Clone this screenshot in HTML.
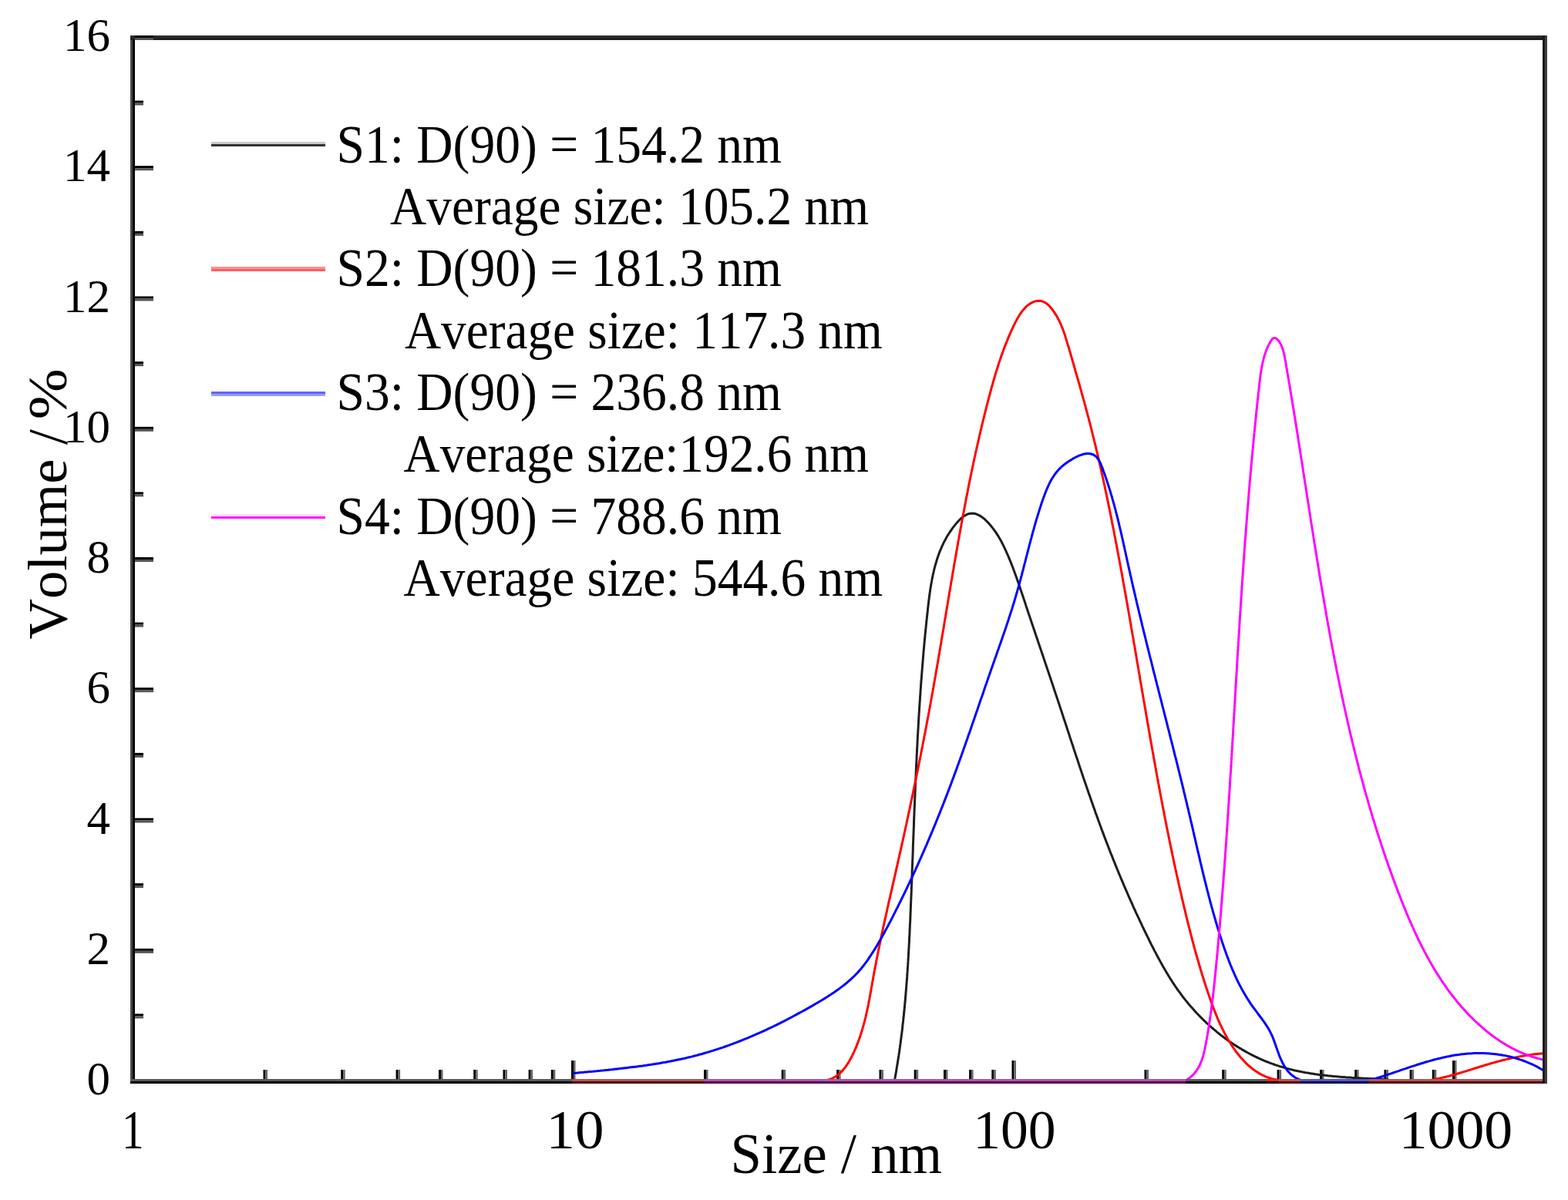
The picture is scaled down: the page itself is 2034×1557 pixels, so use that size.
<!DOCTYPE html>
<html><head><meta charset="utf-8"><title>Particle size distribution</title>
<style>html,body{margin:0;padding:0;background:#fff;overflow:hidden}svg{display:block}text{font-kerning:none;font-variant-ligatures:none}</style>
</head><body>
<svg width="2034" height="1557" viewBox="0 0 2034 1557">
<rect width="100%" height="100%" fill="#fff"/>
<rect x="169" y="46" width="3" height="1360" fill="#4a4a4a"/>
<rect x="172" y="46" width="3" height="1360" fill="#000"/>
<rect x="169" y="46" width="1838" height="3" fill="#2d2d2d"/>
<rect x="169" y="49" width="1838" height="3" fill="#1e1e1e"/>
<rect x="175" y="1315.4" width="11" height="3" fill="#000"/>
<rect x="175" y="1318.4" width="11" height="3" fill="#555"/>
<rect x="175" y="1230.8" width="24" height="3" fill="#000"/>
<rect x="175" y="1233.8" width="24" height="3" fill="#555"/>
<rect x="175" y="1146.1" width="11" height="3" fill="#000"/>
<rect x="175" y="1149.1" width="11" height="3" fill="#555"/>
<rect x="175" y="1061.5" width="24" height="3" fill="#000"/>
<rect x="175" y="1064.5" width="24" height="3" fill="#555"/>
<rect x="175" y="976.9" width="11" height="3" fill="#000"/>
<rect x="175" y="979.9" width="11" height="3" fill="#555"/>
<rect x="175" y="892.2" width="24" height="3" fill="#000"/>
<rect x="175" y="895.2" width="24" height="3" fill="#555"/>
<rect x="175" y="807.6" width="11" height="3" fill="#000"/>
<rect x="175" y="810.6" width="11" height="3" fill="#555"/>
<rect x="175" y="723.0" width="24" height="3" fill="#000"/>
<rect x="175" y="726.0" width="24" height="3" fill="#555"/>
<rect x="175" y="638.4" width="11" height="3" fill="#000"/>
<rect x="175" y="641.4" width="11" height="3" fill="#555"/>
<rect x="175" y="553.8" width="24" height="3" fill="#000"/>
<rect x="175" y="556.8" width="24" height="3" fill="#555"/>
<rect x="175" y="469.1" width="11" height="3" fill="#000"/>
<rect x="175" y="472.1" width="11" height="3" fill="#555"/>
<rect x="175" y="384.5" width="24" height="3" fill="#000"/>
<rect x="175" y="387.5" width="24" height="3" fill="#555"/>
<rect x="175" y="299.9" width="11" height="3" fill="#000"/>
<rect x="175" y="302.9" width="11" height="3" fill="#555"/>
<rect x="175" y="215.2" width="24" height="3" fill="#000"/>
<rect x="175" y="218.2" width="24" height="3" fill="#555"/>
<rect x="175" y="130.6" width="11" height="3" fill="#000"/>
<rect x="175" y="133.6" width="11" height="3" fill="#555"/>
<rect x="175" y="46.0" width="24" height="3" fill="#000"/>
<rect x="175" y="49.0" width="24" height="3" fill="#555"/>
<rect x="341.5" y="1388" width="3" height="12" fill="#000"/>
<rect x="344.5" y="1388" width="2.5" height="12" fill="#666"/>
<rect x="442.2" y="1388" width="3" height="12" fill="#000"/>
<rect x="445.2" y="1388" width="2.5" height="12" fill="#666"/>
<rect x="513.6" y="1388" width="3" height="12" fill="#000"/>
<rect x="516.6" y="1388" width="2.5" height="12" fill="#666"/>
<rect x="569.0" y="1388" width="3" height="12" fill="#000"/>
<rect x="572.0" y="1388" width="2.5" height="12" fill="#666"/>
<rect x="614.2" y="1388" width="3" height="12" fill="#000"/>
<rect x="617.2" y="1388" width="2.5" height="12" fill="#666"/>
<rect x="652.5" y="1388" width="3" height="12" fill="#000"/>
<rect x="655.5" y="1388" width="2.5" height="12" fill="#666"/>
<rect x="685.6" y="1388" width="3" height="12" fill="#000"/>
<rect x="688.6" y="1388" width="2.5" height="12" fill="#666"/>
<rect x="714.8" y="1388" width="3" height="12" fill="#000"/>
<rect x="717.8" y="1388" width="2.5" height="12" fill="#666"/>
<rect x="741.0" y="1376" width="3" height="24" fill="#000"/>
<rect x="744.0" y="1376" width="2.5" height="24" fill="#666"/>
<rect x="913.0" y="1388" width="3" height="12" fill="#000"/>
<rect x="916.0" y="1388" width="2.5" height="12" fill="#666"/>
<rect x="1013.7" y="1388" width="3" height="12" fill="#000"/>
<rect x="1016.7" y="1388" width="2.5" height="12" fill="#666"/>
<rect x="1085.1" y="1388" width="3" height="12" fill="#000"/>
<rect x="1088.1" y="1388" width="2.5" height="12" fill="#666"/>
<rect x="1140.5" y="1388" width="3" height="12" fill="#000"/>
<rect x="1143.5" y="1388" width="2.5" height="12" fill="#666"/>
<rect x="1185.7" y="1388" width="3" height="12" fill="#000"/>
<rect x="1188.7" y="1388" width="2.5" height="12" fill="#666"/>
<rect x="1224.0" y="1388" width="3" height="12" fill="#000"/>
<rect x="1227.0" y="1388" width="2.5" height="12" fill="#666"/>
<rect x="1257.1" y="1388" width="3" height="12" fill="#000"/>
<rect x="1260.1" y="1388" width="2.5" height="12" fill="#666"/>
<rect x="1286.3" y="1388" width="3" height="12" fill="#000"/>
<rect x="1289.3" y="1388" width="2.5" height="12" fill="#666"/>
<rect x="1312.5" y="1376" width="3" height="24" fill="#000"/>
<rect x="1315.5" y="1376" width="2.5" height="24" fill="#666"/>
<rect x="1484.5" y="1388" width="3" height="12" fill="#000"/>
<rect x="1487.5" y="1388" width="2.5" height="12" fill="#666"/>
<rect x="1585.2" y="1388" width="3" height="12" fill="#000"/>
<rect x="1588.2" y="1388" width="2.5" height="12" fill="#666"/>
<rect x="1656.6" y="1388" width="3" height="12" fill="#000"/>
<rect x="1659.6" y="1388" width="2.5" height="12" fill="#666"/>
<rect x="1712.0" y="1388" width="3" height="12" fill="#000"/>
<rect x="1715.0" y="1388" width="2.5" height="12" fill="#666"/>
<rect x="1757.2" y="1388" width="3" height="12" fill="#000"/>
<rect x="1760.2" y="1388" width="2.5" height="12" fill="#666"/>
<rect x="1795.5" y="1388" width="3" height="12" fill="#000"/>
<rect x="1798.5" y="1388" width="2.5" height="12" fill="#666"/>
<rect x="1828.6" y="1388" width="3" height="12" fill="#000"/>
<rect x="1831.6" y="1388" width="2.5" height="12" fill="#666"/>
<rect x="1857.8" y="1388" width="3" height="12" fill="#000"/>
<rect x="1860.8" y="1388" width="2.5" height="12" fill="#666"/>
<rect x="1884.0" y="1376" width="3" height="24" fill="#000"/>
<rect x="1887.0" y="1376" width="2.5" height="24" fill="#666"/>
<path d="M1160.5,1401.3 L1161.0,1398.8 L1161.4,1396.4 L1161.9,1393.9 L1162.3,1391.5 L1162.7,1389.0 L1163.1,1386.6 L1163.5,1384.1 L1163.9,1381.6 L1164.3,1379.2 L1164.7,1376.7 L1165.1,1374.2 L1165.5,1371.8 L1165.9,1369.3 L1166.2,1366.9 L1166.6,1364.4 L1166.9,1361.9 L1167.3,1359.4 L1167.6,1357.0 L1168.0,1354.5 L1168.3,1352.0 L1168.6,1349.5 L1168.9,1347.1 L1169.3,1344.6 L1169.6,1342.1 L1169.9,1339.6 L1170.2,1337.2 L1170.5,1334.7 L1170.7,1332.2 L1171.0,1329.7 L1171.3,1327.2 L1171.6,1324.7 L1171.8,1322.3 L1172.1,1319.8 L1172.4,1317.3 L1172.6,1314.8 L1172.9,1312.3 L1173.1,1309.8 L1173.4,1307.3 L1173.6,1304.8 L1173.8,1302.3 L1174.1,1299.8 L1174.3,1297.4 L1174.5,1294.9 L1174.7,1292.4 L1174.9,1289.9 L1175.1,1287.4 L1175.3,1284.9 L1175.5,1282.4 L1175.7,1279.9 L1175.9,1277.4 L1176.1,1274.9 L1176.3,1272.4 L1176.5,1269.9 L1176.7,1267.4 L1176.8,1264.9 L1177.0,1262.4 L1177.2,1259.9 L1177.3,1257.4 L1177.5,1254.9 L1177.7,1252.4 L1177.8,1249.9 L1178.0,1247.4 L1178.1,1244.8 L1178.3,1242.3 L1178.4,1239.8 L1178.6,1237.3 L1178.7,1234.8 L1178.8,1232.3 L1179.0,1229.8 L1179.1,1227.3 L1179.2,1224.8 L1179.4,1222.3 L1179.5,1219.8 L1179.6,1217.3 L1179.7,1214.8 L1179.9,1212.3 L1180.0,1209.8 L1180.1,1207.3 L1180.2,1204.7 L1180.3,1202.2 L1180.4,1199.7 L1180.6,1197.2 L1180.7,1194.7 L1180.8,1192.2 L1180.9,1189.7 L1181.0,1187.2 L1181.1,1184.7 L1181.2,1182.2 L1181.3,1179.7 L1181.4,1177.2 L1181.5,1174.7 L1181.6,1172.2 L1181.7,1169.7 L1181.8,1167.1 L1181.9,1164.6 L1182.0,1162.1 L1182.1,1159.6 L1182.2,1157.1 L1182.3,1154.6 L1182.4,1152.1 L1182.5,1149.6 L1182.6,1147.1 L1182.7,1144.6 L1182.8,1142.1 L1182.9,1139.6 L1183.0,1137.1 L1183.1,1134.6 L1183.1,1132.1 L1183.2,1129.6 L1183.3,1127.1 L1183.4,1124.6 L1183.5,1122.1 L1183.6,1119.6 L1183.7,1117.1 L1183.8,1114.6 L1183.9,1112.1 L1184.0,1109.6 L1184.1,1107.1 L1184.2,1104.6 L1184.3,1102.1 L1184.3,1099.6 L1184.4,1097.1 L1184.5,1094.6 L1184.6,1092.1 L1184.7,1089.6 L1184.8,1087.1 L1184.9,1084.6 L1185.0,1082.1 L1185.1,1079.6 L1185.2,1077.1 L1185.3,1074.6 L1185.4,1072.1 L1185.5,1069.6 L1185.5,1067.1 L1185.6,1064.6 L1185.7,1062.1 L1185.8,1059.6 L1185.9,1057.1 L1186.0,1054.6 L1186.1,1052.1 L1186.2,1049.6 L1186.3,1047.1 L1186.4,1044.6 L1186.5,1042.1 L1186.6,1039.6 L1186.7,1037.2 L1186.8,1034.7 L1186.9,1032.2 L1187.0,1029.7 L1187.1,1027.2 L1187.2,1024.7 L1187.3,1022.2 L1187.4,1019.7 L1187.5,1017.2 L1187.6,1014.7 L1187.7,1012.2 L1187.9,1009.7 L1188.0,1007.2 L1188.1,1004.7 L1188.2,1002.2 L1188.3,999.7 L1188.4,997.2 L1188.5,994.7 L1188.6,992.2 L1188.8,989.7 L1188.9,987.2 L1189.0,984.7 L1189.1,982.2 L1189.2,979.7 L1189.4,977.2 L1189.5,974.8 L1189.6,972.3 L1189.7,969.8 L1189.9,967.3 L1190.0,964.8 L1190.1,962.3 L1190.2,959.8 L1190.4,957.3 L1190.5,954.8 L1190.6,952.3 L1190.8,949.8 L1190.9,947.3 L1191.1,944.8 L1191.2,942.3 L1191.3,939.8 L1191.5,937.3 L1191.6,934.8 L1191.8,932.3 L1191.9,929.8 L1192.1,927.3 L1192.2,924.8 L1192.4,922.3 L1192.5,919.8 L1192.7,917.3 L1192.9,914.8 L1193.0,912.3 L1193.2,909.8 L1193.4,907.3 L1193.5,904.8 L1193.7,902.3 L1193.9,899.8 L1194.0,897.3 L1194.2,894.8 L1194.4,892.3 L1194.6,889.8 L1194.7,887.3 L1194.9,884.8 L1195.1,882.3 L1195.3,879.8 L1195.5,877.3 L1195.7,874.8 L1195.9,872.3 L1196.1,869.8 L1196.3,867.3 L1196.5,864.8 L1196.7,862.3 L1196.9,859.8 L1197.1,857.3 L1197.3,854.8 L1197.5,852.3 L1197.7,849.8 L1197.9,847.3 L1198.1,844.8 L1198.4,842.3 L1198.6,839.8 L1198.8,837.3 L1199.0,834.8 L1199.3,832.3 L1199.5,829.8 L1199.8,827.3 L1200.0,824.8 L1200.2,822.3 L1200.5,819.8 L1200.7,817.3 L1201.0,814.7 L1201.2,812.2 L1201.5,809.7 L1201.7,807.2 L1202.0,804.7 L1202.3,802.2 L1202.5,799.7 L1202.8,797.2 L1203.1,794.7 L1203.4,792.2 L1203.6,789.7 L1203.9,787.2 L1204.2,784.6 L1204.5,782.1 L1204.8,779.6 L1205.1,777.1 L1205.4,774.6 L1205.8,772.1 L1206.1,769.6 L1206.5,767.1 L1206.8,764.6 L1207.2,762.2 L1207.6,759.7 L1208.0,757.2 L1208.5,754.7 L1208.9,752.3 L1209.4,749.8 L1209.9,747.4 L1210.4,744.9 L1211.0,742.5 L1211.5,740.1 L1212.1,737.7 L1212.7,735.3 L1213.4,732.9 L1214.1,730.5 L1214.8,728.1 L1215.5,725.8 L1216.3,723.4 L1217.1,721.1 L1217.9,718.7 L1218.8,716.4 L1219.7,714.1 L1220.7,711.9 L1221.6,709.6 L1222.7,707.3 L1223.7,705.1 L1224.8,702.9 L1226.0,700.7 L1227.2,698.5 L1228.4,696.3 L1229.7,694.1 L1231.1,692.0 L1232.5,689.9 L1233.9,687.8 L1235.4,685.7 L1236.9,683.6 L1238.5,681.6 L1240.1,679.6 L1241.8,677.6 L1243.6,675.7 L1245.4,673.8 L1247.2,672.1 L1249.1,670.6 L1251.1,669.2 L1253.1,668.1 L1255.1,667.2 L1257.2,666.5 L1259.4,666.2 L1261.5,666.1 L1263.7,666.3 L1265.9,666.8 L1268.0,667.6 L1270.1,668.6 L1272.3,669.9 L1274.3,671.3 L1276.4,672.9 L1278.4,674.7 L1280.3,676.6 L1282.2,678.6 L1284.1,680.7 L1285.8,682.8 L1287.5,684.9 L1289.2,687.1 L1290.7,689.2 L1292.2,691.4 L1293.6,693.6 L1295.0,695.7 L1296.3,697.9 L1297.5,700.1 L1298.8,702.3 L1299.9,704.5 L1301.0,706.7 L1302.1,708.9 L1303.2,711.1 L1304.2,713.3 L1305.2,715.5 L1306.2,717.8 L1307.2,720.0 L1308.2,722.3 L1309.1,724.6 L1310.0,726.8 L1311.0,729.1 L1311.9,731.4 L1312.8,733.7 L1313.7,736.0 L1314.5,738.3 L1315.4,740.7 L1316.3,743.0 L1317.1,745.3 L1318.0,747.7 L1318.8,750.0 L1319.6,752.4 L1320.5,754.7 L1321.3,757.1 L1322.1,759.4 L1322.9,761.8 L1323.7,764.2 L1324.5,766.6 L1325.3,768.9 L1326.1,771.3 L1326.9,773.7 L1327.7,776.1 L1328.5,778.4 L1329.3,780.8 L1330.1,783.2 L1330.8,785.6 L1331.6,788.0 L1332.4,790.3 L1333.2,792.7 L1334.0,795.1 L1334.8,797.5 L1335.6,799.8 L1336.4,802.2 L1337.2,804.6 L1338.0,807.0 L1338.8,809.3 L1339.6,811.7 L1340.4,814.1 L1341.2,816.5 L1342.0,818.8 L1342.8,821.2 L1343.6,823.6 L1344.4,825.9 L1345.2,828.3 L1346.0,830.7 L1346.8,833.1 L1347.6,835.4 L1348.4,837.8 L1349.2,840.2 L1350.0,842.5 L1350.8,844.9 L1351.6,847.3 L1352.4,849.6 L1353.2,852.0 L1354.0,854.4 L1354.8,856.7 L1355.6,859.1 L1356.4,861.5 L1357.2,863.8 L1358.0,866.2 L1358.8,868.6 L1359.6,871.0 L1360.4,873.3 L1361.2,875.7 L1362.0,878.1 L1362.8,880.4 L1363.6,882.8 L1364.4,885.2 L1365.2,887.5 L1366.0,889.9 L1366.7,892.3 L1367.5,894.7 L1368.3,897.0 L1369.1,899.4 L1369.9,901.8 L1370.7,904.1 L1371.5,906.5 L1372.3,908.9 L1373.1,911.3 L1373.9,913.6 L1374.6,916.0 L1375.4,918.4 L1376.2,920.8 L1377.0,923.1 L1377.8,925.5 L1378.6,927.9 L1379.3,930.3 L1380.1,932.7 L1380.9,935.0 L1381.7,937.4 L1382.5,939.8 L1383.3,942.2 L1384.0,944.6 L1384.8,946.9 L1385.6,949.3 L1386.4,951.7 L1387.2,954.1 L1387.9,956.4 L1388.7,958.8 L1389.5,961.2 L1390.3,963.6 L1391.1,966.0 L1391.9,968.3 L1392.6,970.7 L1393.4,973.1 L1394.2,975.5 L1395.0,977.9 L1395.8,980.2 L1396.6,982.6 L1397.4,985.0 L1398.2,987.4 L1399.0,989.7 L1399.7,992.1 L1400.5,994.5 L1401.3,996.9 L1402.1,999.2 L1402.9,1001.6 L1403.7,1004.0 L1404.5,1006.4 L1405.3,1008.7 L1406.1,1011.1 L1406.9,1013.5 L1407.8,1015.9 L1408.6,1018.2 L1409.4,1020.6 L1410.2,1023.0 L1411.0,1025.3 L1411.8,1027.7 L1412.6,1030.1 L1413.5,1032.4 L1414.3,1034.8 L1415.1,1037.2 L1415.9,1039.5 L1416.8,1041.9 L1417.6,1044.3 L1418.4,1046.6 L1419.3,1049.0 L1420.1,1051.3 L1420.9,1053.7 L1421.8,1056.1 L1422.6,1058.4 L1423.5,1060.8 L1424.3,1063.1 L1425.2,1065.5 L1426.0,1067.8 L1426.9,1070.2 L1427.8,1072.5 L1428.6,1074.9 L1429.5,1077.2 L1430.4,1079.6 L1431.3,1081.9 L1432.1,1084.3 L1433.0,1086.6 L1433.9,1088.9 L1434.8,1091.3 L1435.7,1093.6 L1436.6,1096.0 L1437.5,1098.3 L1438.4,1100.6 L1439.3,1103.0 L1440.2,1105.3 L1441.1,1107.6 L1442.1,1109.9 L1443.0,1112.3 L1443.9,1114.6 L1444.8,1116.9 L1445.8,1119.2 L1446.7,1121.6 L1447.6,1123.9 L1448.6,1126.2 L1449.5,1128.5 L1450.5,1130.8 L1451.4,1133.1 L1452.4,1135.5 L1453.4,1137.8 L1454.3,1140.1 L1455.3,1142.4 L1456.3,1144.7 L1457.3,1147.0 L1458.2,1149.3 L1459.2,1151.6 L1460.2,1153.9 L1461.2,1156.2 L1462.2,1158.5 L1463.2,1160.8 L1464.2,1163.1 L1465.2,1165.4 L1466.2,1167.6 L1467.3,1169.9 L1468.3,1172.2 L1469.3,1174.5 L1470.3,1176.8 L1471.4,1179.1 L1472.4,1181.3 L1473.4,1183.6 L1474.5,1185.9 L1475.5,1188.2 L1476.6,1190.4 L1477.7,1192.7 L1478.7,1195.0 L1479.8,1197.2 L1480.9,1199.5 L1481.9,1201.8 L1483.0,1204.0 L1484.1,1206.3 L1485.2,1208.5 L1486.3,1210.8 L1487.4,1213.0 L1488.5,1215.3 L1489.6,1217.5 L1490.7,1219.8 L1491.8,1222.0 L1492.9,1224.3 L1494.0,1226.5 L1495.2,1228.7 L1496.3,1231.0 L1497.4,1233.2 L1498.6,1235.4 L1499.8,1237.6 L1500.9,1239.8 L1502.1,1242.0 L1503.3,1244.2 L1504.5,1246.4 L1505.7,1248.6 L1506.9,1250.8 L1508.1,1253.0 L1509.4,1255.2 L1510.6,1257.3 L1511.9,1259.5 L1513.1,1261.6 L1514.4,1263.8 L1515.7,1265.9 L1517.0,1268.0 L1518.3,1270.1 L1519.7,1272.2 L1521.0,1274.3 L1522.4,1276.4 L1523.8,1278.5 L1525.2,1280.6 L1526.6,1282.6 L1528.0,1284.7 L1529.5,1286.7 L1531.0,1288.7 L1532.4,1290.7 L1533.9,1292.7 L1535.5,1294.7 L1537.0,1296.6 L1538.6,1298.6 L1540.2,1300.5 L1541.7,1302.5 L1543.4,1304.4 L1545.0,1306.3 L1546.6,1308.1 L1548.3,1310.0 L1550.0,1311.9 L1551.7,1313.7 L1553.4,1315.5 L1555.1,1317.3 L1556.9,1319.1 L1558.6,1320.9 L1560.4,1322.7 L1562.2,1324.4 L1564.0,1326.1 L1565.8,1327.8 L1567.7,1329.5 L1569.5,1331.2 L1571.4,1332.9 L1573.3,1334.5 L1575.2,1336.1 L1577.1,1337.7 L1579.0,1339.3 L1581.0,1340.9 L1582.9,1342.5 L1584.9,1344.0 L1586.9,1345.5 L1588.9,1347.0 L1590.9,1348.5 L1592.9,1349.9 L1595.0,1351.4 L1597.0,1352.8 L1599.1,1354.2 L1601.2,1355.6 L1603.3,1356.9 L1605.4,1358.2 L1607.5,1359.6 L1609.7,1360.8 L1611.8,1362.1 L1614.0,1363.4 L1616.1,1364.6 L1618.3,1365.8 L1620.5,1367.0 L1622.7,1368.1 L1625.0,1369.3 L1627.2,1370.4 L1629.4,1371.5 L1631.7,1372.5 L1634.0,1373.6 L1636.2,1374.6 L1638.5,1375.6 L1640.8,1376.6 L1643.1,1377.5 L1645.4,1378.4 L1647.8,1379.3 L1650.1,1380.2 L1652.5,1381.0 L1654.8,1381.8 L1657.2,1382.6 L1659.6,1383.4 L1662.0,1384.1 L1664.4,1384.9 L1666.8,1385.6 L1669.2,1386.2 L1671.6,1386.9 L1674.0,1387.5 L1676.5,1388.1 L1678.9,1388.7 L1681.4,1389.2 L1683.8,1389.8 L1686.3,1390.3 L1688.8,1390.8 L1691.2,1391.2 L1693.7,1391.7 L1696.2,1392.1 L1698.7,1392.5 L1701.2,1392.9 L1703.7,1393.3 L1706.2,1393.7 L1708.7,1394.0 L1711.2,1394.4 L1713.7,1394.7 L1716.2,1395.0 L1718.7,1395.3 L1721.2,1395.6 L1723.7,1395.9 L1726.2,1396.1 L1728.7,1396.4 L1731.2,1396.6 L1733.7,1396.8 L1736.2,1397.0 L1738.7,1397.2 L1741.2,1397.4 L1743.7,1397.6 L1746.2,1397.8 L1748.7,1397.9 L1751.2,1398.1 L1753.7,1398.3 L1756.1,1398.4 L1758.6,1398.5 L1761.1,1398.7 L1763.5,1398.8 L1766.0,1398.9 L1768.5,1399.1 L1770.9,1399.2 L1773.3,1399.3 L1775.8,1399.4 L1800.0,1400.5" fill="none" stroke="#1e1e1e" stroke-width="3" stroke-linejoin="round" stroke-linecap="round"/>
<path d="M1059.8,1402.0 L1062.6,1402.3 L1065.4,1402.3 L1068.0,1402.2 L1070.6,1401.9 L1073.1,1401.4 L1075.4,1400.8 L1077.7,1400.0 L1079.9,1399.0 L1082.0,1397.9 L1084.0,1396.7 L1086.0,1395.4 L1087.8,1393.9 L1089.6,1392.3 L1091.4,1390.7 L1093.0,1388.9 L1094.6,1387.0 L1096.2,1385.1 L1097.6,1383.1 L1099.0,1381.0 L1100.4,1378.9 L1101.7,1376.7 L1103.0,1374.4 L1104.2,1372.2 L1105.4,1369.9 L1106.5,1367.6 L1107.6,1365.3 L1108.6,1362.9 L1109.7,1360.6 L1110.7,1358.3 L1111.6,1355.9 L1112.5,1353.6 L1113.4,1351.2 L1114.3,1348.9 L1115.1,1346.5 L1115.9,1344.1 L1116.7,1341.7 L1117.5,1339.3 L1118.2,1337.0 L1118.9,1334.6 L1119.6,1332.2 L1120.3,1329.7 L1120.9,1327.3 L1121.6,1324.9 L1122.2,1322.5 L1122.8,1320.1 L1123.3,1317.7 L1123.9,1315.2 L1124.4,1312.8 L1124.9,1310.4 L1125.5,1307.9 L1126.0,1305.5 L1126.5,1303.1 L1126.9,1300.6 L1127.4,1298.2 L1127.9,1295.7 L1128.3,1293.3 L1128.8,1290.8 L1129.2,1288.4 L1129.7,1285.9 L1130.1,1283.5 L1130.5,1281.0 L1131.0,1278.5 L1131.4,1276.1 L1131.8,1273.6 L1132.3,1271.2 L1132.7,1268.7 L1133.1,1266.3 L1133.6,1263.8 L1134.0,1261.3 L1134.5,1258.9 L1135.0,1256.4 L1135.4,1254.0 L1135.9,1251.5 L1136.4,1249.1 L1136.8,1246.6 L1137.3,1244.2 L1137.8,1241.7 L1138.3,1239.2 L1138.8,1236.8 L1139.3,1234.3 L1139.8,1231.9 L1140.3,1229.4 L1140.8,1227.0 L1141.3,1224.5 L1141.8,1222.1 L1142.3,1219.6 L1142.8,1217.2 L1143.3,1214.7 L1143.8,1212.3 L1144.4,1209.8 L1144.9,1207.4 L1145.4,1204.9 L1145.9,1202.5 L1146.5,1200.0 L1147.0,1197.6 L1147.5,1195.1 L1148.1,1192.7 L1148.6,1190.3 L1149.2,1187.8 L1149.7,1185.4 L1150.3,1182.9 L1150.8,1180.5 L1151.3,1178.0 L1151.9,1175.6 L1152.4,1173.1 L1153.0,1170.7 L1153.5,1168.2 L1154.1,1165.8 L1154.7,1163.4 L1155.2,1160.9 L1155.8,1158.5 L1156.3,1156.0 L1156.9,1153.6 L1157.4,1151.1 L1158.0,1148.7 L1158.5,1146.2 L1159.1,1143.8 L1159.7,1141.4 L1160.2,1138.9 L1160.8,1136.5 L1161.3,1134.0 L1161.9,1131.6 L1162.4,1129.1 L1163.0,1126.7 L1163.5,1124.3 L1164.1,1121.8 L1164.6,1119.4 L1165.2,1116.9 L1165.7,1114.5 L1166.3,1112.0 L1166.8,1109.6 L1167.4,1107.2 L1167.9,1104.7 L1168.5,1102.3 L1169.0,1099.8 L1169.6,1097.4 L1170.1,1094.9 L1170.6,1092.5 L1171.2,1090.1 L1171.7,1087.6 L1172.3,1085.2 L1172.8,1082.7 L1173.3,1080.3 L1173.9,1077.9 L1174.4,1075.4 L1174.9,1073.0 L1175.5,1070.5 L1176.0,1068.1 L1176.5,1065.6 L1177.0,1063.2 L1177.6,1060.8 L1178.1,1058.3 L1178.6,1055.9 L1179.1,1053.4 L1179.7,1051.0 L1180.2,1048.5 L1180.7,1046.1 L1181.2,1043.6 L1181.7,1041.2 L1182.2,1038.8 L1182.8,1036.3 L1183.3,1033.9 L1183.8,1031.4 L1184.3,1029.0 L1184.8,1026.5 L1185.3,1024.1 L1185.8,1021.6 L1186.3,1019.2 L1186.8,1016.8 L1187.3,1014.3 L1187.8,1011.9 L1188.3,1009.4 L1188.8,1007.0 L1189.3,1004.5 L1189.8,1002.1 L1190.3,999.6 L1190.8,997.2 L1191.3,994.7 L1191.8,992.3 L1192.3,989.8 L1192.8,987.4 L1193.3,984.9 L1193.8,982.5 L1194.3,980.0 L1194.7,977.6 L1195.2,975.1 L1195.7,972.7 L1196.2,970.2 L1196.7,967.8 L1197.1,965.3 L1197.6,962.9 L1198.1,960.4 L1198.6,958.0 L1199.0,955.5 L1199.5,953.1 L1200.0,950.6 L1200.4,948.2 L1200.9,945.7 L1201.4,943.2 L1201.8,940.8 L1202.3,938.3 L1202.8,935.9 L1203.2,933.4 L1203.7,931.0 L1204.2,928.5 L1204.6,926.0 L1205.1,923.6 L1205.5,921.1 L1206.0,918.7 L1206.4,916.2 L1206.9,913.7 L1207.3,911.3 L1207.8,908.8 L1208.2,906.4 L1208.7,903.9 L1209.1,901.4 L1209.5,899.0 L1210.0,896.5 L1210.4,894.0 L1210.9,891.6 L1211.3,889.1 L1211.7,886.6 L1212.2,884.2 L1212.6,881.7 L1213.0,879.2 L1213.5,876.8 L1213.9,874.3 L1214.3,871.8 L1214.7,869.4 L1215.2,866.9 L1215.6,864.4 L1216.0,861.9 L1216.5,859.5 L1216.9,857.0 L1217.3,854.5 L1217.7,852.1 L1218.1,849.6 L1218.6,847.1 L1219.0,844.6 L1219.4,842.2 L1219.8,839.7 L1220.2,837.2 L1220.7,834.7 L1221.1,832.3 L1221.5,829.8 L1221.9,827.3 L1222.3,824.8 L1222.7,822.4 L1223.1,819.9 L1223.6,817.4 L1224.0,814.9 L1224.4,812.5 L1224.8,810.0 L1225.2,807.5 L1225.6,805.0 L1226.0,802.6 L1226.5,800.1 L1226.9,797.6 L1227.3,795.1 L1227.7,792.7 L1228.1,790.2 L1228.5,787.7 L1228.9,785.2 L1229.4,782.8 L1229.8,780.3 L1230.2,777.8 L1230.6,775.3 L1231.0,772.9 L1231.4,770.4 L1231.8,767.9 L1232.3,765.4 L1232.7,763.0 L1233.1,760.5 L1233.5,758.0 L1233.9,755.5 L1234.3,753.1 L1234.8,750.6 L1235.2,748.1 L1235.6,745.6 L1236.0,743.2 L1236.4,740.7 L1236.9,738.2 L1237.3,735.8 L1237.7,733.3 L1238.1,730.8 L1238.6,728.3 L1239.0,725.9 L1239.4,723.4 L1239.9,720.9 L1240.3,718.5 L1240.7,716.0 L1241.1,713.5 L1241.6,711.0 L1242.0,708.6 L1242.5,706.1 L1242.9,703.6 L1243.3,701.2 L1243.8,698.7 L1244.2,696.2 L1244.6,693.8 L1245.1,691.3 L1245.5,688.8 L1246.0,686.4 L1246.4,683.9 L1246.9,681.5 L1247.3,679.0 L1247.8,676.5 L1248.2,674.1 L1248.7,671.6 L1249.1,669.1 L1249.6,666.7 L1250.1,664.2 L1250.5,661.8 L1251.0,659.3 L1251.5,656.9 L1251.9,654.4 L1252.4,651.9 L1252.9,649.5 L1253.3,647.0 L1253.8,644.6 L1254.3,642.1 L1254.8,639.7 L1255.3,637.2 L1255.7,634.8 L1256.2,632.3 L1256.7,629.9 L1257.2,627.4 L1257.7,625.0 L1258.2,622.5 L1258.7,620.1 L1259.2,617.6 L1259.7,615.2 L1260.2,612.7 L1260.7,610.3 L1261.2,607.9 L1261.7,605.4 L1262.3,603.0 L1262.8,600.5 L1263.3,598.1 L1263.8,595.7 L1264.3,593.2 L1264.9,590.8 L1265.4,588.4 L1265.9,585.9 L1266.5,583.5 L1267.0,581.1 L1267.6,578.6 L1268.1,576.2 L1268.7,573.8 L1269.2,571.4 L1269.8,568.9 L1270.3,566.5 L1270.9,564.1 L1271.5,561.7 L1272.0,559.2 L1272.6,556.8 L1273.2,554.4 L1273.7,552.0 L1274.3,549.6 L1274.9,547.1 L1275.5,544.7 L1276.1,542.3 L1276.7,539.9 L1277.3,537.5 L1277.9,535.1 L1278.5,532.7 L1279.1,530.3 L1279.7,527.9 L1280.3,525.5 L1280.9,523.1 L1281.6,520.7 L1282.2,518.3 L1282.8,515.9 L1283.5,513.5 L1284.1,511.1 L1284.7,508.7 L1285.4,506.3 L1286.0,503.9 L1286.7,501.5 L1287.4,499.1 L1288.0,496.7 L1288.7,494.3 L1289.4,492.0 L1290.1,489.6 L1290.8,487.2 L1291.5,484.8 L1292.2,482.4 L1293.0,480.0 L1293.7,477.7 L1294.5,475.3 L1295.2,472.9 L1296.0,470.5 L1296.8,468.1 L1297.6,465.8 L1298.4,463.4 L1299.2,461.0 L1300.1,458.6 L1301.0,456.2 L1301.8,453.9 L1302.7,451.5 L1303.6,449.1 L1304.6,446.7 L1305.5,444.4 L1306.5,442.0 L1307.4,439.6 L1308.4,437.2 L1309.4,434.8 L1310.5,432.5 L1311.5,430.1 L1312.6,427.7 L1313.7,425.3 L1314.8,422.9 L1316.0,420.6 L1317.1,418.2 L1318.4,415.9 L1319.6,413.6 L1320.9,411.4 L1322.2,409.2 L1323.6,407.1 L1325.0,405.0 L1326.5,403.1 L1328.1,401.2 L1329.7,399.4 L1331.3,397.8 L1333.1,396.2 L1334.9,394.9 L1336.8,393.6 L1338.8,392.5 L1340.9,391.6 L1343.0,390.9 L1345.2,390.4 L1347.3,390.2 L1349.5,390.4 L1351.6,390.8 L1353.7,391.6 L1355.8,392.6 L1357.7,394.0 L1359.6,395.5 L1361.4,397.3 L1363.1,399.2 L1364.7,401.2 L1366.3,403.3 L1367.7,405.4 L1369.1,407.6 L1370.5,409.7 L1371.7,411.9 L1372.9,414.2 L1374.1,416.4 L1375.1,418.7 L1376.2,421.0 L1377.1,423.3 L1378.1,425.6 L1379.0,428.0 L1379.8,430.3 L1380.7,432.7 L1381.5,435.1 L1382.2,437.5 L1383.0,439.9 L1383.7,442.3 L1384.4,444.7 L1385.1,447.1 L1385.9,449.5 L1386.6,451.9 L1387.3,454.3 L1388.0,456.7 L1388.7,459.1 L1389.4,461.5 L1390.1,463.9 L1390.8,466.4 L1391.5,468.8 L1392.2,471.2 L1392.9,473.6 L1393.6,476.0 L1394.3,478.4 L1394.9,480.8 L1395.6,483.2 L1396.3,485.6 L1397.0,488.0 L1397.7,490.4 L1398.4,492.8 L1399.1,495.2 L1399.8,497.6 L1400.4,500.0 L1401.1,502.4 L1401.8,504.8 L1402.5,507.2 L1403.1,509.7 L1403.8,512.1 L1404.5,514.5 L1405.1,516.9 L1405.8,519.3 L1406.5,521.7 L1407.1,524.1 L1407.8,526.5 L1408.4,528.9 L1409.1,531.3 L1409.7,533.7 L1410.4,536.1 L1411.0,538.6 L1411.7,541.0 L1412.3,543.4 L1412.9,545.8 L1413.5,548.2 L1414.2,550.6 L1414.8,553.0 L1415.4,555.5 L1416.0,557.9 L1416.6,560.3 L1417.2,562.7 L1417.8,565.2 L1418.4,567.6 L1419.0,570.0 L1419.6,572.4 L1420.2,574.9 L1420.8,577.3 L1421.4,579.7 L1422.0,582.1 L1422.5,584.6 L1423.1,587.0 L1423.7,589.4 L1424.3,591.9 L1424.8,594.3 L1425.4,596.7 L1425.9,599.2 L1426.5,601.6 L1427.1,604.1 L1427.6,606.5 L1428.2,608.9 L1428.7,611.4 L1429.2,613.8 L1429.8,616.3 L1430.3,618.7 L1430.9,621.2 L1431.4,623.6 L1431.9,626.0 L1432.5,628.5 L1433.0,630.9 L1433.5,633.4 L1434.0,635.8 L1434.5,638.3 L1435.1,640.7 L1435.6,643.2 L1436.1,645.6 L1436.6,648.1 L1437.1,650.5 L1437.6,653.0 L1438.1,655.4 L1438.6,657.9 L1439.1,660.3 L1439.6,662.8 L1440.1,665.2 L1440.6,667.7 L1441.1,670.1 L1441.6,672.6 L1442.1,675.1 L1442.5,677.5 L1443.0,680.0 L1443.5,682.4 L1444.0,684.9 L1444.5,687.3 L1445.0,689.8 L1445.4,692.2 L1445.9,694.7 L1446.4,697.2 L1446.9,699.6 L1447.3,702.1 L1447.8,704.5 L1448.3,707.0 L1448.7,709.4 L1449.2,711.9 L1449.7,714.4 L1450.1,716.8 L1450.6,719.3 L1451.0,721.7 L1451.5,724.2 L1452.0,726.7 L1452.4,729.1 L1452.9,731.6 L1453.3,734.0 L1453.8,736.5 L1454.2,739.0 L1454.7,741.4 L1455.1,743.9 L1455.6,746.4 L1456.0,748.8 L1456.5,751.3 L1456.9,753.7 L1457.3,756.2 L1457.8,758.7 L1458.2,761.1 L1458.7,763.6 L1459.1,766.1 L1459.6,768.5 L1460.0,771.0 L1460.4,773.4 L1460.9,775.9 L1461.3,778.4 L1461.7,780.8 L1462.2,783.3 L1462.6,785.8 L1463.0,788.2 L1463.5,790.7 L1463.9,793.2 L1464.3,795.6 L1464.8,798.1 L1465.2,800.6 L1465.6,803.0 L1466.0,805.5 L1466.5,807.9 L1466.9,810.4 L1467.3,812.9 L1467.7,815.3 L1468.2,817.8 L1468.6,820.3 L1469.0,822.7 L1469.4,825.2 L1469.9,827.7 L1470.3,830.1 L1470.7,832.6 L1471.1,835.1 L1471.6,837.5 L1472.0,840.0 L1472.4,842.5 L1472.8,844.9 L1473.2,847.4 L1473.7,849.9 L1474.1,852.3 L1474.5,854.8 L1474.9,857.3 L1475.3,859.7 L1475.8,862.2 L1476.2,864.7 L1476.6,867.1 L1477.0,869.6 L1477.4,872.1 L1477.9,874.5 L1478.3,877.0 L1478.7,879.5 L1479.1,881.9 L1479.5,884.4 L1480.0,886.9 L1480.4,889.3 L1480.8,891.8 L1481.2,894.3 L1481.6,896.7 L1482.1,899.2 L1482.5,901.7 L1482.9,904.1 L1483.3,906.6 L1483.7,909.1 L1484.2,911.5 L1484.6,914.0 L1485.0,916.5 L1485.4,918.9 L1485.9,921.4 L1486.3,923.9 L1486.7,926.3 L1487.1,928.8 L1487.6,931.3 L1488.0,933.7 L1488.4,936.2 L1488.8,938.7 L1489.3,941.1 L1489.7,943.6 L1490.1,946.1 L1490.5,948.5 L1491.0,951.0 L1491.4,953.4 L1491.8,955.9 L1492.3,958.4 L1492.7,960.8 L1493.1,963.3 L1493.6,965.8 L1494.0,968.2 L1494.4,970.7 L1494.9,973.2 L1495.3,975.6 L1495.8,978.1 L1496.2,980.6 L1496.6,983.0 L1497.1,985.5 L1497.5,987.9 L1498.0,990.4 L1498.4,992.9 L1498.8,995.3 L1499.3,997.8 L1499.7,1000.3 L1500.2,1002.7 L1500.6,1005.2 L1501.1,1007.6 L1501.5,1010.1 L1502.0,1012.6 L1502.4,1015.0 L1502.9,1017.5 L1503.3,1019.9 L1503.8,1022.4 L1504.3,1024.9 L1504.7,1027.3 L1505.2,1029.8 L1505.6,1032.2 L1506.1,1034.7 L1506.6,1037.2 L1507.0,1039.6 L1507.5,1042.1 L1508.0,1044.5 L1508.4,1047.0 L1508.9,1049.5 L1509.4,1051.9 L1509.9,1054.4 L1510.3,1056.8 L1510.8,1059.3 L1511.3,1061.7 L1511.8,1064.2 L1512.3,1066.7 L1512.8,1069.1 L1513.2,1071.6 L1513.7,1074.0 L1514.2,1076.5 L1514.7,1078.9 L1515.2,1081.4 L1515.7,1083.8 L1516.2,1086.3 L1516.7,1088.7 L1517.2,1091.2 L1517.7,1093.6 L1518.2,1096.1 L1518.7,1098.6 L1519.2,1101.0 L1519.7,1103.5 L1520.2,1105.9 L1520.7,1108.4 L1521.3,1110.8 L1521.8,1113.3 L1522.3,1115.7 L1522.8,1118.2 L1523.3,1120.6 L1523.9,1123.1 L1524.4,1125.5 L1524.9,1128.0 L1525.5,1130.4 L1526.0,1132.8 L1526.5,1135.3 L1527.1,1137.7 L1527.6,1140.2 L1528.2,1142.6 L1528.7,1145.1 L1529.2,1147.5 L1529.8,1150.0 L1530.3,1152.4 L1530.9,1154.9 L1531.5,1157.3 L1532.0,1159.7 L1532.6,1162.2 L1533.1,1164.6 L1533.7,1167.1 L1534.3,1169.5 L1534.9,1172.0 L1535.4,1174.4 L1536.0,1176.8 L1536.6,1179.3 L1537.2,1181.7 L1537.8,1184.1 L1538.3,1186.6 L1538.9,1189.0 L1539.5,1191.5 L1540.1,1193.9 L1540.7,1196.3 L1541.3,1198.8 L1541.9,1201.2 L1542.5,1203.6 L1543.2,1206.1 L1543.8,1208.5 L1544.4,1210.9 L1545.0,1213.3 L1545.7,1215.8 L1546.3,1218.2 L1546.9,1220.6 L1547.6,1223.0 L1548.2,1225.5 L1548.9,1227.9 L1549.5,1230.3 L1550.2,1232.7 L1550.9,1235.1 L1551.5,1237.5 L1552.2,1240.0 L1552.9,1242.4 L1553.6,1244.8 L1554.3,1247.2 L1555.0,1249.6 L1555.7,1252.0 L1556.4,1254.4 L1557.1,1256.8 L1557.8,1259.2 L1558.5,1261.5 L1559.2,1263.9 L1560.0,1266.3 L1560.7,1268.7 L1561.5,1271.1 L1562.2,1273.5 L1563.0,1275.8 L1563.8,1278.2 L1564.5,1280.6 L1565.3,1282.9 L1566.1,1285.3 L1566.9,1287.7 L1567.7,1290.0 L1568.5,1292.4 L1569.3,1294.7 L1570.2,1297.1 L1571.0,1299.4 L1571.8,1301.7 L1572.7,1304.1 L1573.5,1306.4 L1574.4,1308.7 L1575.3,1311.0 L1576.2,1313.4 L1577.1,1315.7 L1578.1,1318.0 L1579.0,1320.3 L1580.0,1322.6 L1581.0,1324.8 L1582.0,1327.1 L1583.0,1329.4 L1584.1,1331.6 L1585.2,1333.9 L1586.3,1336.1 L1587.4,1338.4 L1588.6,1340.6 L1589.7,1342.8 L1591.0,1345.0 L1592.2,1347.2 L1593.5,1349.4 L1594.8,1351.6 L1596.1,1353.7 L1597.5,1355.9 L1598.9,1358.0 L1600.3,1360.1 L1601.8,1362.2 L1603.3,1364.3 L1604.8,1366.3 L1606.4,1368.3 L1608.0,1370.3 L1609.6,1372.2 L1611.3,1374.1 L1613.0,1376.0 L1614.7,1377.8 L1616.5,1379.6 L1618.3,1381.3 L1620.2,1383.0 L1622.1,1384.6 L1624.0,1386.2 L1625.9,1387.7 L1627.9,1389.1 L1630.0,1390.5 L1632.0,1391.8 L1634.1,1393.1 L1636.3,1394.3 L1638.5,1395.3 L1640.7,1396.4 L1642.9,1397.3 L1645.2,1398.2 L1647.6,1398.9 L1649.9,1399.6 L1652.4,1400.2 L1654.8,1400.7 L1657.3,1401.1 L1659.8,1401.4 L1662.4,1401.6 L1665.0,1401.7 L1848.0,1401.5 L1850.7,1402.1 L1853.2,1401.7 L1855.7,1401.4 L1858.2,1400.9 L1860.7,1400.5 L1863.2,1400.0 L1865.6,1399.5 L1868.1,1399.0 L1870.6,1398.4 L1873.0,1397.8 L1875.5,1397.2 L1877.9,1396.6 L1880.4,1396.0 L1882.8,1395.3 L1885.3,1394.7 L1887.7,1394.0 L1890.1,1393.3 L1892.6,1392.5 L1895.0,1391.8 L1897.4,1391.1 L1899.9,1390.3 L1902.3,1389.6 L1904.7,1388.8 L1907.2,1388.1 L1909.6,1387.3 L1912.0,1386.5 L1914.5,1385.8 L1916.9,1385.0 L1919.3,1384.3 L1921.8,1383.5 L1924.2,1382.8 L1926.6,1382.0 L1929.1,1381.3 L1931.5,1380.6 L1934.0,1379.8 L1936.4,1379.1 L1938.9,1378.5 L1941.3,1377.8 L1943.8,1377.1 L1946.3,1376.5 L1948.7,1375.8 L1951.2,1375.2 L1953.7,1374.6 L1956.2,1374.0 L1958.7,1373.5 L1961.2,1372.9 L1963.6,1372.4 L1966.1,1371.9 L1968.6,1371.4 L1971.1,1370.9 L1973.7,1370.4 L1976.2,1370.0 L1978.7,1369.6 L1981.2,1369.2 L1983.7,1368.8 L1986.3,1368.4 L1988.8,1368.1 L1991.4,1367.8 L1993.9,1367.5 L1996.5,1367.2 L1999.0,1367.0 L2001.6,1366.8 L2004.1,1366.6" fill="none" stroke="#ff0000" stroke-width="3" stroke-linejoin="round" stroke-linecap="round"/>
<path d="M744.1,1392.6 L746.5,1392.3 L749.0,1392.1 L751.5,1391.8 L753.9,1391.6 L756.4,1391.4 L758.8,1391.1 L761.3,1390.9 L763.8,1390.6 L766.2,1390.4 L768.7,1390.2 L771.2,1389.9 L773.7,1389.7 L776.2,1389.4 L778.6,1389.2 L781.1,1388.9 L783.6,1388.7 L786.1,1388.4 L788.6,1388.2 L791.1,1387.9 L793.6,1387.7 L796.1,1387.4 L798.6,1387.1 L801.1,1386.9 L803.6,1386.6 L806.1,1386.3 L808.6,1386.0 L811.1,1385.7 L813.6,1385.4 L816.0,1385.1 L818.5,1384.8 L821.0,1384.5 L823.5,1384.2 L826.0,1383.9 L828.5,1383.6 L831.0,1383.2 L833.5,1382.9 L836.0,1382.5 L838.5,1382.2 L841.0,1381.8 L843.5,1381.4 L846.0,1381.1 L848.5,1380.7 L850.9,1380.3 L853.4,1379.9 L855.9,1379.5 L858.4,1379.0 L860.9,1378.6 L863.3,1378.2 L865.8,1377.7 L868.3,1377.2 L870.7,1376.8 L873.2,1376.3 L875.7,1375.8 L878.1,1375.3 L880.6,1374.8 L883.0,1374.3 L885.5,1373.7 L887.9,1373.2 L890.4,1372.6 L892.8,1372.0 L895.2,1371.5 L897.6,1370.9 L900.1,1370.2 L902.5,1369.6 L904.9,1369.0 L907.3,1368.3 L909.7,1367.7 L912.1,1367.0 L914.5,1366.3 L916.9,1365.6 L919.3,1364.9 L921.7,1364.2 L924.1,1363.4 L926.4,1362.7 L928.8,1361.9 L931.2,1361.2 L933.5,1360.4 L935.9,1359.6 L938.3,1358.8 L940.6,1358.0 L943.0,1357.1 L945.3,1356.3 L947.6,1355.4 L950.0,1354.6 L952.3,1353.7 L954.6,1352.8 L957.0,1351.9 L959.3,1351.0 L961.6,1350.1 L963.9,1349.2 L966.2,1348.2 L968.5,1347.3 L970.8,1346.3 L973.1,1345.4 L975.4,1344.4 L977.7,1343.4 L980.0,1342.4 L982.3,1341.4 L984.6,1340.4 L986.9,1339.4 L989.2,1338.4 L991.4,1337.3 L993.7,1336.3 L996.0,1335.2 L998.2,1334.1 L1000.5,1333.1 L1002.8,1332.0 L1005.0,1330.9 L1007.3,1329.8 L1009.5,1328.7 L1011.8,1327.6 L1014.0,1326.4 L1016.2,1325.3 L1018.5,1324.2 L1020.7,1323.0 L1022.9,1321.8 L1025.2,1320.7 L1027.4,1319.5 L1029.6,1318.3 L1031.8,1317.1 L1034.0,1315.9 L1036.3,1314.7 L1038.5,1313.5 L1040.7,1312.3 L1042.9,1311.1 L1045.1,1309.9 L1047.3,1308.6 L1049.5,1307.4 L1051.7,1306.1 L1053.9,1304.9 L1056.1,1303.6 L1058.2,1302.3 L1060.4,1301.1 L1062.6,1299.8 L1064.8,1298.5 L1066.9,1297.2 L1069.1,1295.9 L1071.2,1294.5 L1073.4,1293.2 L1075.5,1291.8 L1077.6,1290.5 L1079.7,1289.1 L1081.8,1287.7 L1083.8,1286.3 L1085.9,1284.8 L1087.9,1283.4 L1089.9,1281.9 L1091.9,1280.4 L1093.9,1278.9 L1095.8,1277.3 L1097.8,1275.8 L1099.7,1274.2 L1101.5,1272.5 L1103.4,1270.9 L1105.2,1269.2 L1107.0,1267.5 L1108.8,1265.8 L1110.5,1264.0 L1112.2,1262.2 L1113.9,1260.4 L1115.5,1258.6 L1117.1,1256.7 L1118.7,1254.7 L1120.2,1252.8 L1121.7,1250.8 L1123.2,1248.8 L1124.7,1246.8 L1126.1,1244.8 L1127.5,1242.7 L1128.9,1240.6 L1130.3,1238.5 L1131.6,1236.4 L1133.0,1234.3 L1134.3,1232.2 L1135.6,1230.1 L1136.9,1227.9 L1138.2,1225.8 L1139.5,1223.6 L1140.7,1221.4 L1142.0,1219.3 L1143.2,1217.1 L1144.5,1214.9 L1145.7,1212.7 L1146.9,1210.5 L1148.1,1208.3 L1149.3,1206.1 L1150.5,1203.9 L1151.7,1201.7 L1152.8,1199.5 L1154.0,1197.3 L1155.2,1195.1 L1156.3,1192.8 L1157.5,1190.6 L1158.6,1188.4 L1159.7,1186.1 L1160.9,1183.9 L1162.0,1181.7 L1163.1,1179.4 L1164.3,1177.2 L1165.4,1174.9 L1166.5,1172.7 L1167.6,1170.5 L1168.7,1168.2 L1169.8,1166.0 L1170.9,1163.7 L1172.0,1161.5 L1173.1,1159.2 L1174.2,1157.0 L1175.3,1154.7 L1176.4,1152.4 L1177.4,1150.2 L1178.5,1147.9 L1179.6,1145.7 L1180.6,1143.4 L1181.7,1141.1 L1182.8,1138.9 L1183.8,1136.6 L1184.9,1134.3 L1185.9,1132.0 L1187.0,1129.8 L1188.0,1127.5 L1189.0,1125.2 L1190.1,1122.9 L1191.1,1120.6 L1192.1,1118.4 L1193.1,1116.1 L1194.1,1113.8 L1195.2,1111.5 L1196.2,1109.2 L1197.2,1106.9 L1198.2,1104.6 L1199.2,1102.3 L1200.2,1100.0 L1201.2,1097.8 L1202.2,1095.5 L1203.1,1093.2 L1204.1,1090.9 L1205.1,1088.6 L1206.1,1086.2 L1207.1,1083.9 L1208.0,1081.6 L1209.0,1079.3 L1210.0,1077.0 L1210.9,1074.7 L1211.9,1072.4 L1212.8,1070.1 L1213.8,1067.8 L1214.7,1065.5 L1215.7,1063.1 L1216.6,1060.8 L1217.5,1058.5 L1218.5,1056.2 L1219.4,1053.9 L1220.3,1051.5 L1221.2,1049.2 L1222.2,1046.9 L1223.1,1044.5 L1224.0,1042.2 L1224.9,1039.9 L1225.8,1037.6 L1226.7,1035.2 L1227.6,1032.9 L1228.5,1030.6 L1229.4,1028.2 L1230.3,1025.9 L1231.2,1023.5 L1232.1,1021.2 L1233.0,1018.9 L1233.9,1016.5 L1234.7,1014.2 L1235.6,1011.8 L1236.5,1009.5 L1237.4,1007.1 L1238.2,1004.8 L1239.1,1002.4 L1240.0,1000.1 L1240.8,997.7 L1241.7,995.4 L1242.5,993.0 L1243.4,990.7 L1244.2,988.3 L1245.1,986.0 L1245.9,983.6 L1246.8,981.3 L1247.6,978.9 L1248.4,976.6 L1249.3,974.2 L1250.1,971.8 L1250.9,969.5 L1251.8,967.1 L1252.6,964.8 L1253.4,962.4 L1254.3,960.0 L1255.1,957.7 L1255.9,955.3 L1256.7,952.9 L1257.6,950.6 L1258.4,948.2 L1259.2,945.8 L1260.0,943.5 L1260.8,941.1 L1261.6,938.7 L1262.5,936.4 L1263.3,934.0 L1264.1,931.6 L1264.9,929.3 L1265.7,926.9 L1266.5,924.5 L1267.4,922.2 L1268.2,919.8 L1269.0,917.4 L1269.8,915.1 L1270.6,912.7 L1271.4,910.3 L1272.2,908.0 L1273.0,905.6 L1273.9,903.2 L1274.7,900.9 L1275.5,898.5 L1276.3,896.1 L1277.1,893.8 L1277.9,891.4 L1278.7,889.0 L1279.6,886.7 L1280.4,884.3 L1281.2,881.9 L1282.0,879.6 L1282.8,877.2 L1283.7,874.8 L1284.5,872.5 L1285.3,870.1 L1286.1,867.7 L1287.0,865.4 L1287.8,863.0 L1288.6,860.6 L1289.5,858.3 L1290.3,855.9 L1291.1,853.6 L1292.0,851.2 L1292.8,848.8 L1293.6,846.5 L1294.4,844.1 L1295.3,841.8 L1296.1,839.4 L1296.9,837.0 L1297.8,834.7 L1298.6,832.3 L1299.4,830.0 L1300.2,827.6 L1301.0,825.2 L1301.9,822.9 L1302.7,820.5 L1303.5,818.1 L1304.3,815.8 L1305.1,813.4 L1305.9,811.0 L1306.7,808.6 L1307.5,806.3 L1308.3,803.9 L1309.0,801.5 L1309.8,799.1 L1310.6,796.8 L1311.3,794.4 L1312.1,792.0 L1312.9,789.6 L1313.6,787.2 L1314.3,784.8 L1315.1,782.5 L1315.8,780.1 L1316.5,777.7 L1317.2,775.3 L1317.9,772.9 L1318.6,770.5 L1319.3,768.1 L1320.0,765.6 L1320.7,763.2 L1321.4,760.8 L1322.0,758.4 L1322.7,756.0 L1323.3,753.6 L1324.0,751.2 L1324.6,748.7 L1325.3,746.3 L1325.9,743.9 L1326.5,741.5 L1327.2,739.1 L1327.8,736.6 L1328.4,734.2 L1329.0,731.8 L1329.7,729.3 L1330.3,726.9 L1330.9,724.5 L1331.5,722.1 L1332.2,719.6 L1332.8,717.2 L1333.4,714.8 L1334.0,712.4 L1334.7,709.9 L1335.3,707.5 L1335.9,705.1 L1336.6,702.6 L1337.2,700.2 L1337.9,697.8 L1338.5,695.4 L1339.2,693.0 L1339.8,690.5 L1340.5,688.1 L1341.2,685.7 L1341.8,683.3 L1342.5,680.9 L1343.2,678.5 L1343.9,676.1 L1344.6,673.7 L1345.3,671.3 L1346.1,668.9 L1346.8,666.5 L1347.6,664.1 L1348.3,661.7 L1349.1,659.3 L1349.9,656.9 L1350.6,654.5 L1351.4,652.1 L1352.3,649.8 L1353.1,647.4 L1353.9,645.0 L1354.8,642.7 L1355.7,640.3 L1356.6,638.0 L1357.5,635.7 L1358.5,633.4 L1359.5,631.1 L1360.5,628.9 L1361.6,626.7 L1362.7,624.5 L1363.9,622.3 L1365.2,620.2 L1366.5,618.2 L1367.9,616.2 L1369.3,614.2 L1370.8,612.3 L1372.4,610.4 L1374.0,608.6 L1375.8,606.9 L1377.6,605.2 L1379.5,603.6 L1381.5,602.0 L1383.6,600.5 L1385.7,599.1 L1387.9,597.6 L1390.2,596.2 L1392.5,594.8 L1394.9,593.5 L1397.3,592.3 L1399.7,591.2 L1402.2,590.3 L1404.6,589.5 L1407.0,588.9 L1409.5,588.6 L1411.8,588.5 L1414.1,588.7 L1416.2,589.2 L1418.3,590.0 L1420.1,591.1 L1421.8,592.4 L1423.3,594.0 L1424.6,595.8 L1425.8,597.8 L1427.0,600.0 L1428.0,602.2 L1428.9,604.5 L1429.9,606.9 L1430.8,609.3 L1431.6,611.7 L1432.5,614.1 L1433.4,616.5 L1434.2,618.9 L1435.0,621.3 L1435.8,623.8 L1436.6,626.2 L1437.4,628.6 L1438.2,631.0 L1438.9,633.4 L1439.7,635.8 L1440.4,638.2 L1441.1,640.7 L1441.9,643.1 L1442.6,645.5 L1443.2,647.9 L1443.9,650.3 L1444.6,652.8 L1445.3,655.2 L1445.9,657.6 L1446.6,660.0 L1447.2,662.5 L1447.8,664.9 L1448.5,667.3 L1449.1,669.8 L1449.7,672.2 L1450.3,674.6 L1450.9,677.1 L1451.5,679.5 L1452.0,681.9 L1452.6,684.4 L1453.2,686.8 L1453.8,689.2 L1454.3,691.7 L1454.9,694.1 L1455.4,696.5 L1456.0,699.0 L1456.5,701.4 L1457.1,703.9 L1457.6,706.3 L1458.2,708.7 L1458.7,711.2 L1459.2,713.6 L1459.8,716.1 L1460.3,718.5 L1460.8,720.9 L1461.4,723.4 L1461.9,725.8 L1462.4,728.3 L1463.0,730.7 L1463.5,733.1 L1464.1,735.6 L1464.6,738.0 L1465.1,740.4 L1465.7,742.9 L1466.2,745.3 L1466.8,747.8 L1467.3,750.2 L1467.9,752.6 L1468.4,755.1 L1469.0,757.5 L1469.5,759.9 L1470.1,762.4 L1470.7,764.8 L1471.2,767.2 L1471.8,769.7 L1472.4,772.1 L1472.9,774.5 L1473.5,777.0 L1474.1,779.4 L1474.6,781.8 L1475.2,784.3 L1475.8,786.7 L1476.4,789.1 L1477.0,791.6 L1477.5,794.0 L1478.1,796.4 L1478.7,798.9 L1479.3,801.3 L1479.9,803.7 L1480.5,806.2 L1481.1,808.6 L1481.6,811.0 L1482.2,813.5 L1482.8,815.9 L1483.4,818.3 L1484.0,820.8 L1484.6,823.2 L1485.2,825.6 L1485.8,828.0 L1486.4,830.5 L1487.0,832.9 L1487.6,835.3 L1488.2,837.8 L1488.8,840.2 L1489.4,842.6 L1490.0,845.1 L1490.6,847.5 L1491.2,849.9 L1491.8,852.3 L1492.5,854.8 L1493.1,857.2 L1493.7,859.6 L1494.3,862.1 L1494.9,864.5 L1495.5,866.9 L1496.1,869.3 L1496.7,871.8 L1497.3,874.2 L1498.0,876.6 L1498.6,879.1 L1499.2,881.5 L1499.8,883.9 L1500.4,886.3 L1501.0,888.8 L1501.7,891.2 L1502.3,893.6 L1502.9,896.1 L1503.5,898.5 L1504.1,900.9 L1504.7,903.3 L1505.4,905.8 L1506.0,908.2 L1506.6,910.6 L1507.2,913.0 L1507.8,915.5 L1508.4,917.9 L1509.1,920.3 L1509.7,922.8 L1510.3,925.2 L1510.9,927.6 L1511.5,930.0 L1512.2,932.5 L1512.8,934.9 L1513.4,937.3 L1514.0,939.8 L1514.6,942.2 L1515.2,944.6 L1515.9,947.0 L1516.5,949.5 L1517.1,951.9 L1517.7,954.3 L1518.3,956.8 L1518.9,959.2 L1519.6,961.6 L1520.2,964.1 L1520.8,966.5 L1521.4,968.9 L1522.0,971.3 L1522.6,973.8 L1523.2,976.2 L1523.8,978.6 L1524.4,981.1 L1525.1,983.5 L1525.7,985.9 L1526.3,988.4 L1526.9,990.8 L1527.5,993.2 L1528.1,995.7 L1528.7,998.1 L1529.3,1000.5 L1529.9,1003.0 L1530.5,1005.4 L1531.1,1007.8 L1531.7,1010.3 L1532.3,1012.7 L1532.9,1015.1 L1533.5,1017.6 L1534.1,1020.0 L1534.7,1022.4 L1535.3,1024.9 L1535.8,1027.3 L1536.4,1029.7 L1537.0,1032.2 L1537.6,1034.6 L1538.2,1037.0 L1538.8,1039.5 L1539.4,1041.9 L1539.9,1044.4 L1540.5,1046.8 L1541.1,1049.2 L1541.7,1051.7 L1542.2,1054.1 L1542.8,1056.5 L1543.4,1059.0 L1544.0,1061.4 L1544.5,1063.9 L1545.1,1066.3 L1545.7,1068.7 L1546.2,1071.2 L1546.8,1073.6 L1547.4,1076.1 L1547.9,1078.5 L1548.5,1080.9 L1549.0,1083.4 L1549.6,1085.8 L1550.2,1088.3 L1550.7,1090.7 L1551.3,1093.1 L1551.8,1095.6 L1552.4,1098.0 L1553.0,1100.5 L1553.5,1102.9 L1554.1,1105.3 L1554.7,1107.8 L1555.2,1110.2 L1555.8,1112.7 L1556.4,1115.1 L1556.9,1117.5 L1557.5,1120.0 L1558.1,1122.4 L1558.7,1124.8 L1559.3,1127.3 L1559.8,1129.7 L1560.4,1132.1 L1561.0,1134.6 L1561.6,1137.0 L1562.2,1139.4 L1562.8,1141.9 L1563.4,1144.3 L1564.0,1146.7 L1564.6,1149.2 L1565.2,1151.6 L1565.8,1154.0 L1566.4,1156.4 L1567.1,1158.9 L1567.7,1161.3 L1568.3,1163.7 L1569.0,1166.1 L1569.6,1168.5 L1570.2,1171.0 L1570.9,1173.4 L1571.5,1175.8 L1572.2,1178.2 L1572.9,1180.6 L1573.5,1183.0 L1574.2,1185.4 L1574.9,1187.8 L1575.6,1190.2 L1576.3,1192.7 L1577.0,1195.1 L1577.7,1197.5 L1578.4,1199.9 L1579.1,1202.3 L1579.8,1204.7 L1580.6,1207.1 L1581.3,1209.4 L1582.1,1211.8 L1582.8,1214.2 L1583.6,1216.6 L1584.4,1219.0 L1585.1,1221.4 L1585.9,1223.8 L1586.7,1226.1 L1587.5,1228.5 L1588.3,1230.9 L1589.2,1233.3 L1590.0,1235.6 L1590.8,1238.0 L1591.7,1240.3 L1592.6,1242.7 L1593.5,1245.0 L1594.4,1247.4 L1595.3,1249.7 L1596.2,1252.0 L1597.2,1254.3 L1598.1,1256.6 L1599.1,1258.9 L1600.1,1261.2 L1601.1,1263.5 L1602.1,1265.8 L1603.2,1268.0 L1604.2,1270.3 L1605.3,1272.6 L1606.4,1274.8 L1607.5,1277.0 L1608.7,1279.2 L1609.9,1281.4 L1611.0,1283.6 L1612.2,1285.8 L1613.5,1288.0 L1614.7,1290.1 L1616.0,1292.3 L1617.3,1294.4 L1618.6,1296.5 L1620.0,1298.6 L1621.3,1300.7 L1622.7,1302.8 L1624.2,1304.8 L1625.6,1306.9 L1627.1,1308.9 L1628.6,1310.9 L1630.1,1312.9 L1631.6,1315.0 L1633.1,1317.0 L1634.6,1319.0 L1636.1,1321.0 L1637.6,1323.0 L1639.1,1325.0 L1640.5,1327.1 L1641.9,1329.2 L1643.3,1331.3 L1644.6,1333.4 L1645.9,1335.5 L1647.1,1337.7 L1648.2,1339.9 L1649.3,1342.2 L1650.4,1344.5 L1651.3,1346.8 L1652.2,1349.1 L1653.1,1351.5 L1654.0,1353.9 L1654.8,1356.3 L1655.6,1358.7 L1656.5,1361.1 L1657.3,1363.5 L1658.2,1365.8 L1659.0,1368.2 L1659.9,1370.6 L1660.9,1372.9 L1661.9,1375.2 L1663.0,1377.5 L1664.1,1379.8 L1665.3,1382.0 L1666.6,1384.1 L1667.9,1386.2 L1669.4,1388.2 L1670.9,1390.1 L1672.6,1392.0 L1674.3,1393.7 L1676.2,1395.3 L1678.2,1396.8 L1680.3,1398.2 L1682.5,1399.4 L1684.9,1400.4 L1687.3,1401.4 L1775.8,1401.2 L1778.5,1401.2 L1780.9,1400.5 L1783.3,1399.8 L1785.6,1399.0 L1788.0,1398.3 L1790.4,1397.5 L1792.8,1396.8 L1795.2,1396.0 L1797.5,1395.2 L1799.9,1394.4 L1802.3,1393.6 L1804.7,1392.8 L1807.1,1392.0 L1809.5,1391.2 L1811.9,1390.4 L1814.3,1389.6 L1816.7,1388.7 L1819.1,1387.9 L1821.5,1387.1 L1823.9,1386.3 L1826.3,1385.5 L1828.7,1384.7 L1831.1,1383.9 L1833.5,1383.1 L1835.9,1382.3 L1838.3,1381.5 L1840.7,1380.8 L1843.2,1380.0 L1845.6,1379.3 L1848.0,1378.5 L1850.5,1377.8 L1852.9,1377.1 L1855.3,1376.4 L1857.8,1375.7 L1860.2,1375.0 L1862.7,1374.4 L1865.1,1373.8 L1867.6,1373.2 L1870.0,1372.6 L1872.5,1372.0 L1874.9,1371.5 L1877.4,1370.9 L1879.9,1370.5 L1882.3,1370.0 L1884.8,1369.5 L1887.3,1369.1 L1889.8,1368.7 L1892.3,1368.4 L1894.8,1368.0 L1897.3,1367.7 L1899.8,1367.5 L1902.3,1367.2 L1904.8,1367.0 L1907.3,1366.9 L1909.8,1366.7 L1912.3,1366.6 L1914.8,1366.5 L1917.4,1366.5 L1919.9,1366.5 L1922.4,1366.5 L1924.9,1366.6 L1927.4,1366.7 L1929.9,1366.8 L1932.4,1367.0 L1934.9,1367.2 L1937.5,1367.4 L1939.9,1367.7 L1942.4,1368.0 L1944.9,1368.4 L1947.4,1368.7 L1949.9,1369.2 L1952.4,1369.6 L1954.8,1370.1 L1957.3,1370.7 L1959.7,1371.3 L1962.2,1371.9 L1964.6,1372.5 L1967.0,1373.2 L1969.5,1374.0 L1971.9,1374.8 L1974.3,1375.6 L1976.6,1376.5 L1979.0,1377.4 L1981.4,1378.3 L1983.7,1379.3 L1986.1,1380.3 L1988.4,1381.4 L1990.7,1382.5 L1993.0,1383.7 L1995.3,1384.9 L1997.5,1386.2 L1999.8,1387.5 L2002.0,1388.8 L2004.2,1390.2" fill="none" stroke="#0000ff" stroke-width="3" stroke-linejoin="round" stroke-linecap="round"/>
<path d="M1530.0,1402.0 L1538.3,1401.9 L1540.4,1400.6 L1542.6,1399.1 L1544.7,1397.4 L1546.5,1395.7 L1548.3,1393.9 L1549.9,1392.0 L1551.4,1390.0 L1552.8,1388.0 L1554.1,1385.9 L1555.3,1383.8 L1556.4,1381.6 L1557.4,1379.4 L1558.3,1377.1 L1559.2,1374.8 L1559.9,1372.5 L1560.7,1370.1 L1561.3,1367.7 L1561.9,1365.3 L1562.5,1362.8 L1563.0,1360.4 L1563.5,1357.9 L1564.0,1355.4 L1564.5,1352.9 L1564.9,1350.4 L1565.4,1348.0 L1565.8,1345.5 L1566.3,1343.0 L1566.7,1340.5 L1567.1,1338.0 L1567.5,1335.5 L1567.9,1333.1 L1568.3,1330.6 L1568.7,1328.1 L1569.1,1325.6 L1569.4,1323.1 L1569.8,1320.6 L1570.1,1318.2 L1570.5,1315.7 L1570.8,1313.2 L1571.2,1310.7 L1571.5,1308.2 L1571.8,1305.8 L1572.1,1303.3 L1572.4,1300.8 L1572.7,1298.3 L1573.0,1295.8 L1573.3,1293.3 L1573.6,1290.9 L1573.9,1288.4 L1574.2,1285.9 L1574.4,1283.4 L1574.7,1280.9 L1575.0,1278.4 L1575.3,1276.0 L1575.5,1273.5 L1575.8,1271.0 L1576.0,1268.5 L1576.3,1266.0 L1576.5,1263.5 L1576.8,1261.0 L1577.0,1258.6 L1577.3,1256.1 L1577.5,1253.6 L1577.7,1251.1 L1578.0,1248.6 L1578.2,1246.1 L1578.5,1243.6 L1578.7,1241.2 L1578.9,1238.7 L1579.2,1236.2 L1579.4,1233.7 L1579.6,1231.2 L1579.8,1228.7 L1580.1,1226.2 L1580.3,1223.7 L1580.5,1221.2 L1580.7,1218.8 L1581.0,1216.3 L1581.2,1213.8 L1581.4,1211.3 L1581.6,1208.8 L1581.8,1206.3 L1582.0,1203.8 L1582.3,1201.3 L1582.5,1198.8 L1582.7,1196.3 L1582.9,1193.8 L1583.1,1191.4 L1583.3,1188.9 L1583.5,1186.4 L1583.7,1183.9 L1583.9,1181.4 L1584.1,1178.9 L1584.3,1176.4 L1584.5,1173.9 L1584.7,1171.4 L1584.9,1168.9 L1585.1,1166.4 L1585.3,1163.9 L1585.5,1161.4 L1585.7,1158.9 L1585.9,1156.4 L1586.1,1153.9 L1586.3,1151.4 L1586.5,1148.9 L1586.7,1146.4 L1586.9,1144.0 L1587.1,1141.5 L1587.2,1139.0 L1587.4,1136.5 L1587.6,1134.0 L1587.8,1131.5 L1588.0,1129.0 L1588.2,1126.5 L1588.4,1124.0 L1588.5,1121.5 L1588.7,1119.0 L1588.9,1116.5 L1589.1,1114.0 L1589.3,1111.5 L1589.4,1109.0 L1589.6,1106.5 L1589.8,1104.0 L1590.0,1101.5 L1590.1,1099.0 L1590.3,1096.5 L1590.5,1094.0 L1590.7,1091.5 L1590.8,1089.0 L1591.0,1086.5 L1591.2,1084.0 L1591.3,1081.5 L1591.5,1079.0 L1591.7,1076.5 L1591.8,1074.0 L1592.0,1071.5 L1592.2,1069.0 L1592.3,1066.5 L1592.5,1064.0 L1592.7,1061.5 L1592.8,1059.0 L1593.0,1056.5 L1593.2,1054.0 L1593.3,1051.5 L1593.5,1049.0 L1593.6,1046.5 L1593.8,1044.0 L1594.0,1041.5 L1594.1,1039.0 L1594.3,1036.5 L1594.4,1034.0 L1594.6,1031.5 L1594.8,1029.0 L1594.9,1026.5 L1595.1,1023.9 L1595.2,1021.4 L1595.4,1018.9 L1595.5,1016.4 L1595.7,1013.9 L1595.8,1011.4 L1596.0,1008.9 L1596.1,1006.4 L1596.3,1003.9 L1596.5,1001.4 L1596.6,998.9 L1596.8,996.4 L1596.9,993.9 L1597.1,991.4 L1597.2,988.9 L1597.4,986.4 L1597.5,983.9 L1597.7,981.4 L1597.8,978.9 L1598.0,976.4 L1598.1,973.9 L1598.3,971.4 L1598.4,968.9 L1598.6,966.4 L1598.7,963.9 L1598.9,961.4 L1599.0,958.9 L1599.2,956.4 L1599.3,953.9 L1599.5,951.4 L1599.6,948.9 L1599.7,946.4 L1599.9,943.9 L1600.0,941.4 L1600.2,938.9 L1600.3,936.4 L1600.5,933.9 L1600.6,931.4 L1600.8,928.9 L1600.9,926.4 L1601.1,923.9 L1601.2,921.4 L1601.4,918.9 L1601.5,916.4 L1601.7,913.9 L1601.8,911.3 L1602.0,908.8 L1602.1,906.3 L1602.2,903.8 L1602.4,901.3 L1602.5,898.8 L1602.7,896.3 L1602.8,893.8 L1603.0,891.3 L1603.1,888.8 L1603.3,886.3 L1603.4,883.8 L1603.6,881.3 L1603.7,878.8 L1603.9,876.3 L1604.0,873.8 L1604.2,871.3 L1604.3,868.8 L1604.5,866.3 L1604.6,863.8 L1604.8,861.3 L1604.9,858.8 L1605.1,856.3 L1605.2,853.8 L1605.4,851.4 L1605.5,848.9 L1605.7,846.4 L1605.8,843.9 L1606.0,841.4 L1606.1,838.9 L1606.3,836.4 L1606.4,833.9 L1606.6,831.4 L1606.7,828.9 L1606.9,826.4 L1607.0,823.9 L1607.2,821.4 L1607.3,818.9 L1607.5,816.4 L1607.7,813.9 L1607.8,811.4 L1608.0,808.9 L1608.1,806.4 L1608.3,803.9 L1608.4,801.4 L1608.6,798.9 L1608.8,796.4 L1608.9,793.9 L1609.1,791.4 L1609.2,788.9 L1609.4,786.5 L1609.6,784.0 L1609.7,781.5 L1609.9,779.0 L1610.0,776.5 L1610.2,774.0 L1610.4,771.5 L1610.5,769.0 L1610.7,766.5 L1610.9,764.0 L1611.0,761.5 L1611.2,759.0 L1611.4,756.5 L1611.5,754.0 L1611.7,751.6 L1611.9,749.1 L1612.0,746.6 L1612.2,744.1 L1612.4,741.6 L1612.5,739.1 L1612.7,736.6 L1612.9,734.1 L1613.1,731.6 L1613.2,729.1 L1613.4,726.6 L1613.6,724.1 L1613.8,721.7 L1613.9,719.2 L1614.1,716.7 L1614.3,714.2 L1614.5,711.7 L1614.7,709.2 L1614.8,706.7 L1615.0,704.2 L1615.2,701.7 L1615.4,699.2 L1615.6,696.7 L1615.8,694.2 L1616.0,691.8 L1616.1,689.3 L1616.3,686.8 L1616.5,684.3 L1616.7,681.8 L1616.9,679.3 L1617.1,676.8 L1617.3,674.3 L1617.5,671.8 L1617.7,669.3 L1617.9,666.8 L1618.1,664.3 L1618.3,661.8 L1618.5,659.3 L1618.7,656.8 L1618.9,654.4 L1619.1,651.9 L1619.3,649.4 L1619.5,646.9 L1619.7,644.4 L1619.9,641.9 L1620.1,639.4 L1620.3,636.9 L1620.5,634.4 L1620.7,631.9 L1620.9,629.4 L1621.1,626.9 L1621.3,624.4 L1621.6,621.9 L1621.8,619.4 L1622.0,616.9 L1622.2,614.4 L1622.4,611.9 L1622.7,609.4 L1622.9,606.9 L1623.1,604.4 L1623.3,601.9 L1623.5,599.4 L1623.8,596.9 L1624.0,594.4 L1624.2,591.9 L1624.5,589.4 L1624.7,586.9 L1624.9,584.4 L1625.2,581.9 L1625.4,579.4 L1625.6,576.9 L1625.9,574.4 L1626.1,571.9 L1626.3,569.4 L1626.6,566.9 L1626.8,564.4 L1627.1,561.9 L1627.3,559.4 L1627.6,556.9 L1627.8,554.4 L1628.1,551.9 L1628.3,549.4 L1628.6,546.9 L1628.8,544.4 L1629.1,541.9 L1629.3,539.3 L1629.6,536.8 L1629.8,534.3 L1630.1,531.8 L1630.4,529.3 L1630.6,526.8 L1630.9,524.3 L1631.2,521.8 L1631.4,519.3 L1631.7,516.8 L1632.0,514.2 L1632.2,511.7 L1632.5,509.2 L1632.8,506.7 L1633.1,504.2 L1633.3,501.7 L1633.6,499.2 L1633.9,496.6 L1634.2,494.1 L1634.5,491.6 L1634.8,489.1 L1635.1,486.6 L1635.5,484.1 L1635.9,481.6 L1636.3,479.1 L1636.7,476.6 L1637.2,474.2 L1637.7,471.7 L1638.2,469.3 L1638.8,466.9 L1639.4,464.5 L1640.1,462.1 L1640.8,459.7 L1641.6,457.3 L1642.5,455.0 L1643.4,452.7 L1644.4,450.4 L1645.4,448.1 L1646.6,445.9 L1647.8,443.7 L1649.1,441.6 L1650.4,439.9 L1651.9,438.8 L1653.4,438.4 L1655.0,438.9 L1656.6,440.1 L1658.1,441.7 L1659.5,443.5 L1660.7,445.5 L1661.8,447.5 L1662.7,449.6 L1663.6,451.8 L1664.3,454.1 L1665.0,456.4 L1665.5,458.8 L1666.1,461.2 L1666.6,463.7 L1667.0,466.1 L1667.5,468.6 L1667.9,471.1 L1668.3,473.6 L1668.7,476.1 L1669.2,478.6 L1669.6,481.1 L1670.0,483.5 L1670.5,486.0 L1670.9,488.5 L1671.3,491.0 L1671.7,493.5 L1672.1,496.0 L1672.6,498.5 L1673.0,501.0 L1673.4,503.4 L1673.8,505.9 L1674.2,508.4 L1674.6,510.9 L1675.0,513.4 L1675.4,515.9 L1675.9,518.4 L1676.3,520.9 L1676.7,523.4 L1677.1,525.8 L1677.5,528.3 L1677.9,530.8 L1678.3,533.3 L1678.7,535.8 L1679.1,538.3 L1679.5,540.8 L1679.9,543.3 L1680.3,545.7 L1680.7,548.2 L1681.1,550.7 L1681.5,553.2 L1681.9,555.7 L1682.3,558.2 L1682.7,560.7 L1683.1,563.2 L1683.5,565.7 L1683.8,568.1 L1684.2,570.6 L1684.6,573.1 L1685.0,575.6 L1685.4,578.1 L1685.8,580.6 L1686.2,583.1 L1686.6,585.6 L1687.0,588.0 L1687.3,590.5 L1687.7,593.0 L1688.1,595.5 L1688.5,598.0 L1688.9,600.5 L1689.3,603.0 L1689.7,605.5 L1690.1,607.9 L1690.4,610.4 L1690.8,612.9 L1691.2,615.4 L1691.6,617.9 L1692.0,620.4 L1692.4,622.9 L1692.7,625.3 L1693.1,627.8 L1693.5,630.3 L1693.9,632.8 L1694.3,635.3 L1694.7,637.8 L1695.1,640.3 L1695.4,642.7 L1695.8,645.2 L1696.2,647.7 L1696.6,650.2 L1697.0,652.7 L1697.4,655.2 L1697.7,657.6 L1698.1,660.1 L1698.5,662.6 L1698.9,665.1 L1699.3,667.6 L1699.7,670.1 L1700.1,672.5 L1700.4,675.0 L1700.8,677.5 L1701.2,680.0 L1701.6,682.5 L1702.0,684.9 L1702.4,687.4 L1702.8,689.9 L1703.2,692.4 L1703.6,694.9 L1703.9,697.3 L1704.3,699.8 L1704.7,702.3 L1705.1,704.8 L1705.5,707.3 L1705.9,709.7 L1706.3,712.2 L1706.7,714.7 L1707.1,717.2 L1707.5,719.6 L1707.9,722.1 L1708.3,724.6 L1708.7,727.1 L1709.1,729.5 L1709.5,732.0 L1709.9,734.5 L1710.3,737.0 L1710.7,739.4 L1711.1,741.9 L1711.5,744.4 L1711.9,746.9 L1712.3,749.3 L1712.7,751.8 L1713.1,754.3 L1713.6,756.7 L1714.0,759.2 L1714.4,761.7 L1714.8,764.2 L1715.2,766.6 L1715.6,769.1 L1716.0,771.6 L1716.5,774.0 L1716.9,776.5 L1717.3,779.0 L1717.7,781.4 L1718.2,783.9 L1718.6,786.4 L1719.0,788.8 L1719.4,791.3 L1719.9,793.8 L1720.3,796.2 L1720.7,798.7 L1721.2,801.2 L1721.6,803.6 L1722.0,806.1 L1722.5,808.6 L1722.9,811.0 L1723.4,813.5 L1723.8,815.9 L1724.2,818.4 L1724.7,820.9 L1725.1,823.3 L1725.6,825.8 L1726.0,828.2 L1726.5,830.7 L1727.0,833.2 L1727.4,835.6 L1727.9,838.1 L1728.3,840.5 L1728.8,843.0 L1729.3,845.4 L1729.7,847.9 L1730.2,850.3 L1730.7,852.8 L1731.1,855.2 L1731.6,857.7 L1732.1,860.2 L1732.6,862.6 L1733.1,865.1 L1733.5,867.5 L1734.0,870.0 L1734.5,872.4 L1735.0,874.9 L1735.5,877.3 L1736.0,879.7 L1736.5,882.2 L1737.0,884.6 L1737.5,887.1 L1738.0,889.5 L1738.5,892.0 L1739.0,894.4 L1739.5,896.9 L1740.0,899.3 L1740.5,901.7 L1741.0,904.2 L1741.6,906.6 L1742.1,909.1 L1742.6,911.5 L1743.1,913.9 L1743.7,916.4 L1744.2,918.8 L1744.7,921.3 L1745.3,923.7 L1745.8,926.1 L1746.4,928.6 L1746.9,931.0 L1747.4,933.4 L1748.0,935.9 L1748.5,938.3 L1749.1,940.7 L1749.7,943.2 L1750.2,945.6 L1750.8,948.0 L1751.4,950.4 L1751.9,952.9 L1752.5,955.3 L1753.1,957.7 L1753.7,960.2 L1754.2,962.6 L1754.8,965.0 L1755.4,967.4 L1756.0,969.9 L1756.6,972.3 L1757.2,974.7 L1757.8,977.1 L1758.4,979.5 L1759.0,982.0 L1759.6,984.4 L1760.2,986.8 L1760.8,989.2 L1761.5,991.6 L1762.1,994.0 L1762.7,996.5 L1763.3,998.9 L1764.0,1001.3 L1764.6,1003.7 L1765.2,1006.1 L1765.9,1008.5 L1766.5,1010.9 L1767.2,1013.3 L1767.8,1015.7 L1768.5,1018.1 L1769.1,1020.6 L1769.8,1023.0 L1770.5,1025.4 L1771.1,1027.8 L1771.8,1030.2 L1772.5,1032.6 L1773.2,1035.0 L1773.9,1037.4 L1774.6,1039.8 L1775.2,1042.2 L1775.9,1044.6 L1776.6,1047.0 L1777.3,1049.4 L1778.1,1051.8 L1778.8,1054.2 L1779.5,1056.5 L1780.2,1058.9 L1780.9,1061.3 L1781.6,1063.7 L1782.4,1066.1 L1783.1,1068.5 L1783.8,1070.9 L1784.6,1073.3 L1785.3,1075.7 L1786.1,1078.0 L1786.8,1080.4 L1787.6,1082.8 L1788.4,1085.2 L1789.1,1087.6 L1789.9,1090.0 L1790.7,1092.3 L1791.5,1094.7 L1792.2,1097.1 L1793.0,1099.5 L1793.8,1101.8 L1794.6,1104.2 L1795.4,1106.6 L1796.2,1109.0 L1797.0,1111.3 L1797.8,1113.7 L1798.7,1116.1 L1799.5,1118.4 L1800.3,1120.8 L1801.1,1123.2 L1802.0,1125.5 L1802.8,1127.9 L1803.7,1130.3 L1804.5,1132.6 L1805.4,1135.0 L1806.2,1137.4 L1807.1,1139.7 L1808.0,1142.1 L1808.8,1144.4 L1809.7,1146.8 L1810.6,1149.2 L1811.5,1151.5 L1812.4,1153.9 L1813.3,1156.2 L1814.2,1158.6 L1815.1,1160.9 L1816.0,1163.3 L1816.9,1165.6 L1817.8,1168.0 L1818.7,1170.3 L1819.7,1172.6 L1820.6,1175.0 L1821.6,1177.3 L1822.5,1179.6 L1823.5,1182.0 L1824.4,1184.3 L1825.4,1186.6 L1826.4,1189.0 L1827.4,1191.3 L1828.4,1193.6 L1829.4,1195.9 L1830.4,1198.2 L1831.4,1200.5 L1832.4,1202.8 L1833.5,1205.1 L1834.5,1207.4 L1835.6,1209.7 L1836.6,1212.0 L1837.7,1214.2 L1838.8,1216.5 L1839.8,1218.8 L1840.9,1221.0 L1842.0,1223.3 L1843.2,1225.5 L1844.3,1227.8 L1845.4,1230.0 L1846.6,1232.2 L1847.7,1234.4 L1848.9,1236.6 L1850.1,1238.9 L1851.3,1241.1 L1852.5,1243.2 L1853.7,1245.4 L1854.9,1247.6 L1856.1,1249.8 L1857.4,1251.9 L1858.6,1254.1 L1859.9,1256.2 L1861.2,1258.4 L1862.5,1260.5 L1863.8,1262.6 L1865.1,1264.7 L1866.5,1266.8 L1867.8,1268.9 L1869.2,1271.0 L1870.6,1273.1 L1871.9,1275.1 L1873.4,1277.2 L1874.8,1279.2 L1876.2,1281.3 L1877.6,1283.3 L1879.1,1285.3 L1880.6,1287.3 L1882.1,1289.3 L1883.6,1291.3 L1885.1,1293.2 L1886.6,1295.2 L1888.2,1297.1 L1889.8,1299.1 L1891.3,1301.0 L1893.0,1302.9 L1894.6,1304.8 L1896.2,1306.7 L1897.9,1308.5 L1899.5,1310.4 L1901.2,1312.2 L1902.9,1314.0 L1904.6,1315.9 L1906.4,1317.7 L1908.1,1319.5 L1909.9,1321.2 L1911.7,1323.0 L1913.5,1324.7 L1915.3,1326.5 L1917.2,1328.2 L1919.0,1329.9 L1920.9,1331.5 L1922.8,1333.2 L1924.7,1334.8 L1926.6,1336.5 L1928.6,1338.1 L1930.5,1339.6 L1932.5,1341.2 L1934.5,1342.7 L1936.5,1344.2 L1938.6,1345.7 L1940.6,1347.2 L1942.7,1348.6 L1944.7,1350.0 L1946.8,1351.4 L1948.9,1352.8 L1951.1,1354.1 L1953.2,1355.4 L1955.4,1356.7 L1957.5,1357.9 L1959.7,1359.1 L1961.9,1360.3 L1964.2,1361.4 L1966.4,1362.6 L1968.6,1363.6 L1970.9,1364.7 L1973.2,1365.7 L1975.5,1366.7 L1977.8,1367.6 L1980.1,1368.5 L1982.5,1369.4 L1984.8,1370.2 L1987.2,1371.0 L1989.6,1371.8 L1992.0,1372.5 L1994.4,1373.2 L1996.8,1373.8 L1999.2,1374.4 L2001.7,1375.0 L2004.2,1375.5" fill="none" stroke="#ff00ff" stroke-width="3" stroke-linejoin="round" stroke-linecap="round"/>
<rect x="169" y="1400" width="573" height="3" fill="#5a5a5a"/>
<rect x="169" y="1403" width="573" height="3" fill="#000"/>
<rect x="742" y="1400" width="172" height="3" fill="#a85a5a"/>
<rect x="742" y="1403" width="172" height="3" fill="#5a0000"/>
<rect x="914" y="1400" width="624" height="3" fill="#a85aa8"/>
<rect x="914" y="1403" width="624" height="3" fill="#5a005a"/>
<rect x="1538" y="1400" width="105" height="3" fill="#5a5a5a"/>
<rect x="1538" y="1403" width="105" height="3" fill="#000"/>
<rect x="1643" y="1400" width="16" height="3" fill="#ff2020"/>
<rect x="1643" y="1403" width="16" height="3" fill="#000"/>
<rect x="1659" y="1400" width="28" height="3" fill="#a85a5a"/>
<rect x="1659" y="1403" width="28" height="3" fill="#5a0000"/>
<rect x="1687" y="1400" width="89" height="3" fill="#5a5aa8"/>
<rect x="1687" y="1403" width="89" height="3" fill="#00005a"/>
<rect x="1776" y="1400" width="231" height="3" fill="#a85a5a"/>
<rect x="1776" y="1403" width="231" height="3" fill="#5a0000"/>
<rect x="2001" y="46" width="3" height="1360" fill="#1a1a1a"/>
<rect x="2004" y="46" width="3" height="1360" fill="#404040"/>
<text x="143" y="1420.0" text-anchor="end" font-family="Liberation Serif, Times New Roman, serif" font-size="61">0</text>
<text x="143" y="1250.8" text-anchor="end" font-family="Liberation Serif, Times New Roman, serif" font-size="61">2</text>
<text x="143" y="1081.5" text-anchor="end" font-family="Liberation Serif, Times New Roman, serif" font-size="61">4</text>
<text x="143" y="912.2" text-anchor="end" font-family="Liberation Serif, Times New Roman, serif" font-size="61">6</text>
<text x="143" y="743.0" text-anchor="end" font-family="Liberation Serif, Times New Roman, serif" font-size="61">8</text>
<text x="143" y="573.8" text-anchor="end" font-family="Liberation Serif, Times New Roman, serif" font-size="61">10</text>
<text x="143" y="404.5" text-anchor="end" font-family="Liberation Serif, Times New Roman, serif" font-size="61">12</text>
<text x="143" y="235.2" text-anchor="end" font-family="Liberation Serif, Times New Roman, serif" font-size="61">14</text>
<text x="143" y="66.0" text-anchor="end" font-family="Liberation Serif, Times New Roman, serif" font-size="61">16</text>
<text x="157.9" y="1490" font-family="Liberation Serif, Times New Roman, serif" font-size="72" textLength="28.7" lengthAdjust="spacingAndGlyphs">1</text>
<text x="708.4" y="1490" font-family="Liberation Serif, Times New Roman, serif" font-size="72" textLength="75.0" lengthAdjust="spacingAndGlyphs">10</text>
<text x="1262.2" y="1490" font-family="Liberation Serif, Times New Roman, serif" font-size="72" textLength="107.4" lengthAdjust="spacingAndGlyphs">100</text>
<text x="1814.7" y="1490" font-family="Liberation Serif, Times New Roman, serif" font-size="72" textLength="147.5" lengthAdjust="spacingAndGlyphs">1000</text>
<text x="947.5" y="1521.5" font-family="Liberation Serif, Times New Roman, serif" font-size="73" textLength="274.6" lengthAdjust="spacingAndGlyphs">Size / nm</text>
<text transform="translate(86,829.5) rotate(-90)" font-family="Liberation Serif, Times New Roman, serif" font-size="72" textLength="234" lengthAdjust="spacingAndGlyphs">Volume</text>
<text transform="translate(86,577) rotate(-90)" font-family="Liberation Serif, Times New Roman, serif" font-size="72">/</text>
<text transform="translate(86,544.2) rotate(-90)" font-family="Liberation Serif, Times New Roman, serif" font-size="72" textLength="66" lengthAdjust="spacingAndGlyphs">%</text>
<rect x="274" y="184" width="148" height="3" fill="#c8c8c8"/>
<rect x="274" y="187" width="148" height="3" fill="#333"/>
<rect x="274" y="346" width="148" height="3" fill="#ff9090"/>
<rect x="274" y="349" width="148" height="3" fill="#ff6060"/>
<rect x="274" y="508" width="148" height="3" fill="#6464ff"/>
<rect x="274" y="511" width="148" height="3" fill="#9a9aff"/>
<rect x="274" y="667" width="148" height="3" fill="#ffe4ff"/>
<rect x="274" y="670" width="148" height="3" fill="#ff14ff"/>
<text x="436.5" y="210.5" font-family="Liberation Serif, Times New Roman, serif" font-size="69.5" textLength="577.5" lengthAdjust="spacingAndGlyphs">S1: D(90) = 154.2 nm</text>
<text x="506" y="291" font-family="Liberation Serif, Times New Roman, serif" font-size="69.5" textLength="621" lengthAdjust="spacingAndGlyphs">Average size: 105.2 nm</text>
<text x="436.5" y="371" font-family="Liberation Serif, Times New Roman, serif" font-size="69.5" textLength="577.5" lengthAdjust="spacingAndGlyphs">S2: D(90) = 181.3 nm</text>
<text x="525" y="451.5" font-family="Liberation Serif, Times New Roman, serif" font-size="69.5" textLength="619.7" lengthAdjust="spacingAndGlyphs">Average size: 117.3 nm</text>
<text x="436.5" y="532" font-family="Liberation Serif, Times New Roman, serif" font-size="69.5" textLength="577.5" lengthAdjust="spacingAndGlyphs">S3: D(90) = 236.8 nm</text>
<text x="523.6" y="612" font-family="Liberation Serif, Times New Roman, serif" font-size="69.5" textLength="603.4" lengthAdjust="spacingAndGlyphs">Average size:192.6 nm</text>
<text x="436.5" y="693" font-family="Liberation Serif, Times New Roman, serif" font-size="69.5" textLength="577.5" lengthAdjust="spacingAndGlyphs">S4: D(90) = 788.6 nm</text>
<text x="523.6" y="773" font-family="Liberation Serif, Times New Roman, serif" font-size="69.5" textLength="621.6" lengthAdjust="spacingAndGlyphs">Average size: 544.6 nm</text>
</svg>
</body></html>
